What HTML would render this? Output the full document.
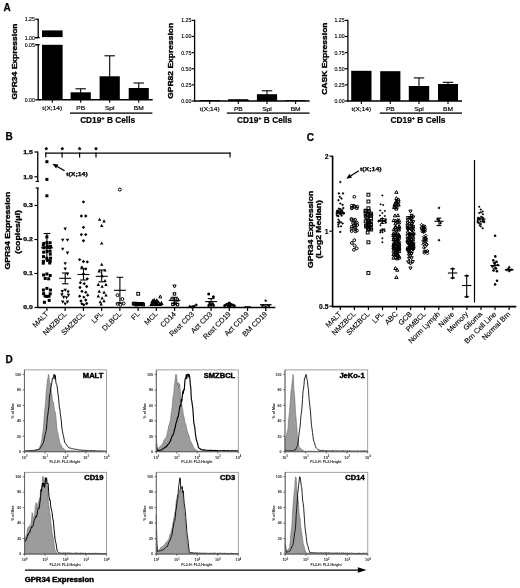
<!DOCTYPE html>
<html><head><meta charset="utf-8"><title>GPR34 expression figure</title>
<style>
html,body{margin:0;padding:0;background:#fff;}
body{width:520px;height:588px;overflow:hidden;}
svg{display:block;filter:blur(0.3px);}
svg text{font-family:"Liberation Sans",Arial,sans-serif;}
</style></head><body>
<svg width="520" height="588" viewBox="0 0 520 588">
<rect width="520" height="588" fill="#fff"/>
<text x="3.60" y="10.80" font-size="10" text-anchor="start" font-weight="bold" stroke="#000" stroke-width="0.25">A</text>
<text x="5.40" y="139.60" font-size="10" text-anchor="start" font-weight="bold" stroke="#000" stroke-width="0.25">B</text>
<text x="306.80" y="140.50" font-size="10" text-anchor="start" font-weight="bold" stroke="#000" stroke-width="0.25">C</text>
<text x="5.40" y="363.10" font-size="10" text-anchor="start" font-weight="bold" stroke="#000" stroke-width="0.25">D</text>
<line x1="38.20" y1="18.70" x2="38.20" y2="37.70" stroke="#000" stroke-width="1.3" />
<line x1="38.20" y1="44.70" x2="38.20" y2="99.80" stroke="#000" stroke-width="1.3" />
<line x1="35.20" y1="37.70" x2="39.70" y2="37.70" stroke="#000" stroke-width="1.2" />
<line x1="35.20" y1="44.70" x2="39.70" y2="44.70" stroke="#000" stroke-width="1.2" />
<line x1="37.70" y1="99.80" x2="152.70" y2="99.80" stroke="#000" stroke-width="1.5" />
<line x1="35.20" y1="19.20" x2="38.20" y2="19.20" stroke="#000" stroke-width="1.2" />
<text x="34.90" y="21.10" font-size="5.2" text-anchor="end" stroke="#000" stroke-width="0.12">1.25</text>
<line x1="35.20" y1="37.70" x2="38.20" y2="37.70" stroke="#000" stroke-width="1.2" />
<text x="34.90" y="39.60" font-size="5.2" text-anchor="end" stroke="#000" stroke-width="0.12">1.00</text>
<line x1="35.20" y1="44.70" x2="38.20" y2="44.70" stroke="#000" stroke-width="1.2" />
<text x="34.90" y="46.60" font-size="5.2" text-anchor="end" stroke="#000" stroke-width="0.12">0.05</text>
<line x1="35.20" y1="99.80" x2="38.20" y2="99.80" stroke="#000" stroke-width="1.2" />
<text x="34.90" y="101.70" font-size="5.2" text-anchor="end" stroke="#000" stroke-width="0.12">0.00</text>
<rect x="42.00" y="30.40" width="20.60" height="6.70" fill="#000" />
<rect x="42.00" y="44.80" width="20.60" height="55.00" fill="#000" />
<line x1="52.30" y1="99.80" x2="52.30" y2="102.80" stroke="#000" stroke-width="1.1" />
<text x="52.30" y="109.90" font-size="5.2" text-anchor="middle" textLength="19.82" lengthAdjust="spacingAndGlyphs" stroke="#000" stroke-width="0.15">t(X;14)</text>
<rect x="70.60" y="92.30" width="20.20" height="7.50" fill="#000" />
<line x1="80.70" y1="88.80" x2="80.70" y2="92.80" stroke="#000" stroke-width="1.1" />
<line x1="75.50" y1="88.80" x2="85.90" y2="88.80" stroke="#000" stroke-width="1.1" />
<line x1="80.70" y1="99.80" x2="80.70" y2="102.80" stroke="#000" stroke-width="1.1" />
<text x="80.70" y="109.90" font-size="5.2" text-anchor="middle" textLength="8.81" lengthAdjust="spacingAndGlyphs" stroke="#000" stroke-width="0.15">PB</text>
<rect x="99.60" y="76.30" width="20.20" height="23.50" fill="#000" />
<line x1="109.70" y1="55.80" x2="109.70" y2="76.80" stroke="#000" stroke-width="1.1" />
<line x1="104.50" y1="55.80" x2="114.90" y2="55.80" stroke="#000" stroke-width="1.1" />
<line x1="109.70" y1="99.80" x2="109.70" y2="102.80" stroke="#000" stroke-width="1.1" />
<text x="109.70" y="109.90" font-size="5.2" text-anchor="middle" textLength="9.54" lengthAdjust="spacingAndGlyphs" stroke="#000" stroke-width="0.15">Spl</text>
<rect x="128.70" y="88.00" width="20.10" height="11.80" fill="#000" />
<line x1="138.75" y1="83.00" x2="138.75" y2="88.50" stroke="#000" stroke-width="1.1" />
<line x1="133.55" y1="83.00" x2="143.95" y2="83.00" stroke="#000" stroke-width="1.1" />
<line x1="138.75" y1="99.80" x2="138.75" y2="102.80" stroke="#000" stroke-width="1.1" />
<text x="138.75" y="109.90" font-size="5.2" text-anchor="middle" textLength="9.91" lengthAdjust="spacingAndGlyphs" stroke="#000" stroke-width="0.15">BM</text>
<text x="16.50" y="61.50" font-size="7.7" text-anchor="middle" font-weight="bold" transform="rotate(-90 16.50 61.50)" textLength="76.13" lengthAdjust="spacingAndGlyphs" stroke="#000" stroke-width="0.35">GPR34 Expression</text>
<rect x="70.00" y="112.45" width="82.40" height="1.30" fill="#000" />
<text x="107.60" y="122.70" font-size="8.3" text-anchor="middle" font-weight="bold" stroke="#000" stroke-width="0.2">CD19<tspan dy="-2.6" font-size="5.6">+</tspan><tspan dy="2.6"> B Cells</tspan></text>
<line x1="194.60" y1="19.70" x2="194.60" y2="101.50" stroke="#000" stroke-width="1.3" />
<line x1="194.10" y1="101.00" x2="309.60" y2="101.00" stroke="#000" stroke-width="1.5" />
<line x1="191.60" y1="20.40" x2="194.60" y2="20.40" stroke="#000" stroke-width="1.2" />
<text x="191.30" y="22.30" font-size="5.2" text-anchor="end" stroke="#000" stroke-width="0.12">1.25</text>
<line x1="191.60" y1="36.52" x2="194.60" y2="36.52" stroke="#000" stroke-width="1.2" />
<text x="191.30" y="38.42" font-size="5.2" text-anchor="end" stroke="#000" stroke-width="0.12">1.00</text>
<line x1="191.60" y1="52.64" x2="194.60" y2="52.64" stroke="#000" stroke-width="1.2" />
<text x="191.30" y="54.54" font-size="5.2" text-anchor="end" stroke="#000" stroke-width="0.12">0.75</text>
<line x1="191.60" y1="68.76" x2="194.60" y2="68.76" stroke="#000" stroke-width="1.2" />
<text x="191.30" y="70.66" font-size="5.2" text-anchor="end" stroke="#000" stroke-width="0.12">0.50</text>
<line x1="191.60" y1="84.88" x2="194.60" y2="84.88" stroke="#000" stroke-width="1.2" />
<text x="191.30" y="86.78" font-size="5.2" text-anchor="end" stroke="#000" stroke-width="0.12">0.25</text>
<line x1="191.60" y1="101.00" x2="194.60" y2="101.00" stroke="#000" stroke-width="1.2" />
<text x="191.30" y="102.90" font-size="5.2" text-anchor="end" stroke="#000" stroke-width="0.12">0.00</text>
<rect x="199.60" y="100.00" width="20.20" height="1.00" fill="#000" />
<line x1="209.70" y1="101.00" x2="209.70" y2="104.00" stroke="#000" stroke-width="1.1" />
<text x="209.70" y="111.10" font-size="5.2" text-anchor="middle" textLength="19.82" lengthAdjust="spacingAndGlyphs" stroke="#000" stroke-width="0.15">t(X;14)</text>
<rect x="228.20" y="99.20" width="20.20" height="1.80" fill="#000" />
<line x1="238.30" y1="101.00" x2="238.30" y2="104.00" stroke="#000" stroke-width="1.1" />
<text x="238.30" y="111.10" font-size="5.2" text-anchor="middle" textLength="8.81" lengthAdjust="spacingAndGlyphs" stroke="#000" stroke-width="0.15">PB</text>
<rect x="256.90" y="94.20" width="20.20" height="6.80" fill="#000" />
<line x1="267.00" y1="90.80" x2="267.00" y2="94.70" stroke="#000" stroke-width="1.1" />
<line x1="261.80" y1="90.80" x2="272.20" y2="90.80" stroke="#000" stroke-width="1.1" />
<line x1="267.00" y1="101.00" x2="267.00" y2="104.00" stroke="#000" stroke-width="1.1" />
<text x="267.00" y="111.10" font-size="5.2" text-anchor="middle" textLength="9.54" lengthAdjust="spacingAndGlyphs" stroke="#000" stroke-width="0.15">Spl</text>
<rect x="285.50" y="100.20" width="20.20" height="0.80" fill="#000" />
<line x1="295.60" y1="101.00" x2="295.60" y2="104.00" stroke="#000" stroke-width="1.1" />
<text x="295.60" y="111.10" font-size="5.2" text-anchor="middle" textLength="9.91" lengthAdjust="spacingAndGlyphs" stroke="#000" stroke-width="0.15">BM</text>
<text x="173.40" y="60.80" font-size="7.7" text-anchor="middle" font-weight="bold" transform="rotate(-90 173.40 60.80)" textLength="76.13" lengthAdjust="spacingAndGlyphs" stroke="#000" stroke-width="0.35">GPR82 Expression</text>
<rect x="226.80" y="112.45" width="82.70" height="1.30" fill="#000" />
<text x="264.50" y="122.70" font-size="8.3" text-anchor="middle" font-weight="bold" stroke="#000" stroke-width="0.2">CD19<tspan dy="-2.6" font-size="5.6">+</tspan><tspan dy="2.6"> B Cells</tspan></text>
<line x1="347.90" y1="19.70" x2="347.90" y2="101.50" stroke="#000" stroke-width="1.3" />
<line x1="347.40" y1="101.00" x2="462.00" y2="101.00" stroke="#000" stroke-width="1.5" />
<line x1="344.90" y1="20.40" x2="347.90" y2="20.40" stroke="#000" stroke-width="1.2" />
<text x="344.60" y="22.30" font-size="5.2" text-anchor="end" stroke="#000" stroke-width="0.12">1.25</text>
<line x1="344.90" y1="36.52" x2="347.90" y2="36.52" stroke="#000" stroke-width="1.2" />
<text x="344.60" y="38.42" font-size="5.2" text-anchor="end" stroke="#000" stroke-width="0.12">1.00</text>
<line x1="344.90" y1="52.64" x2="347.90" y2="52.64" stroke="#000" stroke-width="1.2" />
<text x="344.60" y="54.54" font-size="5.2" text-anchor="end" stroke="#000" stroke-width="0.12">0.75</text>
<line x1="344.90" y1="68.76" x2="347.90" y2="68.76" stroke="#000" stroke-width="1.2" />
<text x="344.60" y="70.66" font-size="5.2" text-anchor="end" stroke="#000" stroke-width="0.12">0.50</text>
<line x1="344.90" y1="84.88" x2="347.90" y2="84.88" stroke="#000" stroke-width="1.2" />
<text x="344.60" y="86.78" font-size="5.2" text-anchor="end" stroke="#000" stroke-width="0.12">0.25</text>
<line x1="344.90" y1="101.00" x2="347.90" y2="101.00" stroke="#000" stroke-width="1.2" />
<text x="344.60" y="102.90" font-size="5.2" text-anchor="end" stroke="#000" stroke-width="0.12">0.00</text>
<rect x="351.20" y="70.80" width="20.30" height="30.20" fill="#000" />
<line x1="361.35" y1="101.00" x2="361.35" y2="104.00" stroke="#000" stroke-width="1.1" />
<text x="361.35" y="111.10" font-size="5.2" text-anchor="middle" textLength="19.82" lengthAdjust="spacingAndGlyphs" stroke="#000" stroke-width="0.15">t(X;14)</text>
<rect x="380.20" y="71.20" width="20.20" height="29.80" fill="#000" />
<line x1="390.30" y1="101.00" x2="390.30" y2="104.00" stroke="#000" stroke-width="1.1" />
<text x="390.30" y="111.10" font-size="5.2" text-anchor="middle" textLength="8.81" lengthAdjust="spacingAndGlyphs" stroke="#000" stroke-width="0.15">PB</text>
<rect x="408.80" y="86.00" width="20.40" height="15.00" fill="#000" />
<line x1="419.00" y1="77.90" x2="419.00" y2="86.50" stroke="#000" stroke-width="1.1" />
<line x1="413.80" y1="77.90" x2="424.20" y2="77.90" stroke="#000" stroke-width="1.1" />
<line x1="419.00" y1="101.00" x2="419.00" y2="104.00" stroke="#000" stroke-width="1.1" />
<text x="419.00" y="111.10" font-size="5.2" text-anchor="middle" textLength="9.54" lengthAdjust="spacingAndGlyphs" stroke="#000" stroke-width="0.15">Spl</text>
<rect x="438.00" y="84.00" width="20.00" height="17.00" fill="#000" />
<line x1="448.00" y1="82.30" x2="448.00" y2="84.50" stroke="#000" stroke-width="1.1" />
<line x1="442.80" y1="82.30" x2="453.20" y2="82.30" stroke="#000" stroke-width="1.1" />
<line x1="448.00" y1="101.00" x2="448.00" y2="104.00" stroke="#000" stroke-width="1.1" />
<text x="448.00" y="111.10" font-size="5.2" text-anchor="middle" textLength="9.91" lengthAdjust="spacingAndGlyphs" stroke="#000" stroke-width="0.15">BM</text>
<text x="327.00" y="58.60" font-size="7.7" text-anchor="middle" font-weight="bold" transform="rotate(-90 327.00 58.60)" textLength="72.34" lengthAdjust="spacingAndGlyphs" stroke="#000" stroke-width="0.35">CASK Expression</text>
<rect x="379.80" y="112.45" width="82.20" height="1.30" fill="#000" />
<text x="418.00" y="122.70" font-size="8.3" text-anchor="middle" font-weight="bold" stroke="#000" stroke-width="0.2">CD19<tspan dy="-2.6" font-size="5.6">+</tspan><tspan dy="2.6"> B Cells</tspan></text>
<line x1="37.75" y1="151.50" x2="37.75" y2="181.50" stroke="#000" stroke-width="1.3" />
<line x1="37.75" y1="188.00" x2="37.75" y2="308.00" stroke="#000" stroke-width="1.3" />
<line x1="35.55" y1="181.50" x2="38.95" y2="181.50" stroke="#000" stroke-width="1.1" />
<line x1="35.55" y1="188.00" x2="38.95" y2="188.00" stroke="#000" stroke-width="1.1" />
<line x1="34.45" y1="307.50" x2="37.75" y2="307.50" stroke="#000" stroke-width="1.2" />
<text x="32.75" y="309.40" font-size="5.3" text-anchor="end" font-weight="bold" textLength="9.58" lengthAdjust="spacingAndGlyphs" stroke="#000" stroke-width="0.25">0.0</text>
<line x1="34.45" y1="273.50" x2="37.75" y2="273.50" stroke="#000" stroke-width="1.2" />
<text x="32.75" y="275.40" font-size="5.3" text-anchor="end" font-weight="bold" textLength="9.58" lengthAdjust="spacingAndGlyphs" stroke="#000" stroke-width="0.25">0.1</text>
<line x1="34.45" y1="239.50" x2="37.75" y2="239.50" stroke="#000" stroke-width="1.2" />
<text x="32.75" y="241.40" font-size="5.3" text-anchor="end" font-weight="bold" textLength="9.58" lengthAdjust="spacingAndGlyphs" stroke="#000" stroke-width="0.25">0.2</text>
<line x1="34.45" y1="205.50" x2="37.75" y2="205.50" stroke="#000" stroke-width="1.2" />
<text x="32.75" y="207.40" font-size="5.3" text-anchor="end" font-weight="bold" textLength="9.58" lengthAdjust="spacingAndGlyphs" stroke="#000" stroke-width="0.25">0.3</text>
<line x1="34.45" y1="152.00" x2="37.75" y2="152.00" stroke="#000" stroke-width="1.2" />
<text x="32.75" y="153.90" font-size="5.3" text-anchor="end" font-weight="bold" textLength="9.58" lengthAdjust="spacingAndGlyphs" stroke="#000" stroke-width="0.25">1.5</text>
<line x1="34.45" y1="176.80" x2="37.75" y2="176.80" stroke="#000" stroke-width="1.2" />
<text x="32.75" y="178.70" font-size="5.3" text-anchor="end" font-weight="bold" textLength="9.58" lengthAdjust="spacingAndGlyphs" stroke="#000" stroke-width="0.25">1.0</text>
<line x1="37.25" y1="307.50" x2="275.30" y2="307.50" stroke="#000" stroke-width="1.6" />
<text x="10.40" y="230.70" font-size="7.8" text-anchor="middle" font-weight="bold" transform="rotate(-90 10.40 230.70)" textLength="77.82" lengthAdjust="spacingAndGlyphs" stroke="#000" stroke-width="0.35">GPR34 Expression</text>
<text x="19.70" y="231.90" font-size="7.8" text-anchor="middle" font-weight="bold" transform="rotate(-90 19.70 231.90)" textLength="43.49" lengthAdjust="spacingAndGlyphs" stroke="#000" stroke-width="0.35">(copies/μl)</text>
<line x1="46.90" y1="307.50" x2="46.90" y2="310.90" stroke="#000" stroke-width="1.2" />
<text x="48.80" y="314.50" font-size="7.3" text-anchor="end" transform="rotate(-45 48.80 314.50)" stroke="#000" stroke-width="0.12">MALT</text>
<line x1="65.14" y1="307.50" x2="65.14" y2="310.90" stroke="#000" stroke-width="1.2" />
<text x="67.04" y="314.50" font-size="7.3" text-anchor="end" transform="rotate(-45 67.04 314.50)" stroke="#000" stroke-width="0.12">NMZBCL</text>
<line x1="83.38" y1="307.50" x2="83.38" y2="310.90" stroke="#000" stroke-width="1.2" />
<text x="85.28" y="314.50" font-size="7.3" text-anchor="end" transform="rotate(-45 85.28 314.50)" stroke="#000" stroke-width="0.12">SMZBCL</text>
<line x1="101.62" y1="307.50" x2="101.62" y2="310.90" stroke="#000" stroke-width="1.2" />
<text x="103.52" y="314.50" font-size="7.3" text-anchor="end" transform="rotate(-45 103.52 314.50)" stroke="#000" stroke-width="0.12">LPL</text>
<line x1="119.86" y1="307.50" x2="119.86" y2="310.90" stroke="#000" stroke-width="1.2" />
<text x="121.76" y="314.50" font-size="7.3" text-anchor="end" transform="rotate(-45 121.76 314.50)" stroke="#000" stroke-width="0.12">DLBCL</text>
<line x1="138.10" y1="307.50" x2="138.10" y2="310.90" stroke="#000" stroke-width="1.2" />
<text x="140.00" y="314.50" font-size="7.3" text-anchor="end" transform="rotate(-45 140.00 314.50)" stroke="#000" stroke-width="0.12">FL</text>
<line x1="156.34" y1="307.50" x2="156.34" y2="310.90" stroke="#000" stroke-width="1.2" />
<text x="158.24" y="314.50" font-size="7.3" text-anchor="end" transform="rotate(-45 158.24 314.50)" stroke="#000" stroke-width="0.12">MCL</text>
<line x1="174.58" y1="307.50" x2="174.58" y2="310.90" stroke="#000" stroke-width="1.2" />
<text x="176.48" y="314.50" font-size="7.3" text-anchor="end" transform="rotate(-45 176.48 314.50)" stroke="#000" stroke-width="0.12">CD14</text>
<line x1="192.82" y1="307.50" x2="192.82" y2="310.90" stroke="#000" stroke-width="1.2" />
<text x="194.72" y="314.50" font-size="7.3" text-anchor="end" transform="rotate(-45 194.72 314.50)" stroke="#000" stroke-width="0.12">Rest CD3</text>
<line x1="211.06" y1="307.50" x2="211.06" y2="310.90" stroke="#000" stroke-width="1.2" />
<text x="212.96" y="314.50" font-size="7.3" text-anchor="end" transform="rotate(-45 212.96 314.50)" stroke="#000" stroke-width="0.12">Act CD3</text>
<line x1="229.30" y1="307.50" x2="229.30" y2="310.90" stroke="#000" stroke-width="1.2" />
<text x="231.20" y="314.50" font-size="7.3" text-anchor="end" transform="rotate(-45 231.20 314.50)" stroke="#000" stroke-width="0.12">Rest CD19</text>
<line x1="247.54" y1="307.50" x2="247.54" y2="310.90" stroke="#000" stroke-width="1.2" />
<text x="249.44" y="314.50" font-size="7.3" text-anchor="end" transform="rotate(-45 249.44 314.50)" stroke="#000" stroke-width="0.12">Act CD19</text>
<line x1="265.78" y1="307.50" x2="265.78" y2="310.90" stroke="#000" stroke-width="1.2" />
<text x="267.68" y="314.50" font-size="7.3" text-anchor="end" transform="rotate(-45 267.68 314.50)" stroke="#000" stroke-width="0.12">BM CD19</text>
<line x1="45.30" y1="153.10" x2="230.50" y2="153.10" stroke="#000" stroke-width="1.2" />
<line x1="45.80" y1="152.60" x2="45.80" y2="157.50" stroke="#000" stroke-width="1.2" />
<line x1="62.10" y1="152.60" x2="62.10" y2="157.50" stroke="#000" stroke-width="1.2" />
<line x1="79.60" y1="152.60" x2="79.60" y2="157.50" stroke="#000" stroke-width="1.2" />
<line x1="96.00" y1="152.60" x2="96.00" y2="157.50" stroke="#000" stroke-width="1.2" />
<line x1="230.00" y1="152.60" x2="230.00" y2="157.50" stroke="#000" stroke-width="1.2" />
<polygon points="46.30,146.49 46.90,147.87 48.40,148.02 47.27,149.02 47.60,150.49 46.30,149.72 45.00,150.49 45.33,149.02 44.20,148.02 45.70,147.87" fill="#000" stroke="#000" stroke-width="0"/>
<polygon points="62.30,146.49 62.90,147.87 64.40,148.02 63.27,149.02 63.60,150.49 62.30,149.72 61.00,150.49 61.33,149.02 60.20,148.02 61.70,147.87" fill="#000" stroke="#000" stroke-width="0"/>
<polygon points="79.60,146.49 80.20,147.87 81.70,148.02 80.57,149.02 80.90,150.49 79.60,149.72 78.30,150.49 78.63,149.02 77.50,148.02 79.00,147.87" fill="#000" stroke="#000" stroke-width="0"/>
<polygon points="96.00,146.49 96.60,147.87 98.10,148.02 96.97,149.02 97.30,150.49 96.00,149.72 94.70,150.49 95.03,149.02 93.90,148.02 95.40,147.87" fill="#000" stroke="#000" stroke-width="0"/>
<line x1="64.60" y1="170.80" x2="55.00" y2="165.20" stroke="#000" stroke-width="1.3" />
<polygon points="52.4,163.7 58.4,164.4 56,168.6" fill="#000"/>
<text x="66.20" y="176.10" font-size="5.3" text-anchor="start" font-weight="bold" textLength="21.60" lengthAdjust="spacingAndGlyphs" stroke="#000" stroke-width="0.25">t(X;14)</text>
<rect x="45.40" y="160.20" width="3.00" height="3.00" fill="#000" stroke="#000" stroke-width="0"/>
<rect x="45.40" y="177.90" width="3.00" height="3.00" fill="#000" stroke="#000" stroke-width="0"/>
<rect x="45.40" y="194.30" width="3.00" height="3.00" fill="#000" stroke="#000" stroke-width="0"/>
<rect x="45.40" y="235.40" width="3.00" height="3.00" fill="#000" stroke="#000" stroke-width="0"/>
<rect x="42.26" y="241.85" width="3.00" height="3.00" fill="#000" stroke="#000" stroke-width="0"/>
<rect x="45.41" y="241.17" width="3.00" height="3.00" fill="#000" stroke="#000" stroke-width="0"/>
<rect x="48.61" y="241.26" width="3.00" height="3.00" fill="#000" stroke="#000" stroke-width="0"/>
<rect x="41.79" y="243.61" width="3.00" height="3.00" fill="#000" stroke="#000" stroke-width="0"/>
<rect x="45.71" y="244.39" width="3.00" height="3.00" fill="#000" stroke="#000" stroke-width="0"/>
<rect x="49.08" y="244.93" width="3.00" height="3.00" fill="#000" stroke="#000" stroke-width="0"/>
<rect x="42.32" y="246.31" width="3.00" height="3.00" fill="#000" stroke="#000" stroke-width="0"/>
<rect x="45.43" y="246.12" width="3.00" height="3.00" fill="#000" stroke="#000" stroke-width="0"/>
<rect x="48.34" y="246.06" width="3.00" height="3.00" fill="#000" stroke="#000" stroke-width="0"/>
<rect x="42.14" y="250.68" width="3.00" height="3.00" fill="#000" stroke="#000" stroke-width="0"/>
<rect x="45.54" y="250.00" width="3.00" height="3.00" fill="#000" stroke="#000" stroke-width="0"/>
<rect x="48.56" y="249.56" width="3.00" height="3.00" fill="#000" stroke="#000" stroke-width="0"/>
<rect x="48.81" y="252.63" width="3.00" height="3.00" fill="#000" stroke="#000" stroke-width="0"/>
<rect x="41.99" y="255.14" width="3.00" height="3.00" fill="#000" stroke="#000" stroke-width="0"/>
<rect x="45.30" y="256.69" width="3.00" height="3.00" fill="#000" stroke="#000" stroke-width="0"/>
<rect x="49.06" y="256.69" width="3.00" height="3.00" fill="#000" stroke="#000" stroke-width="0"/>
<rect x="41.91" y="259.82" width="3.00" height="3.00" fill="#000" stroke="#000" stroke-width="0"/>
<rect x="45.88" y="258.79" width="3.00" height="3.00" fill="#000" stroke="#000" stroke-width="0"/>
<rect x="48.73" y="259.56" width="3.00" height="3.00" fill="#000" stroke="#000" stroke-width="0"/>
<rect x="41.79" y="261.67" width="3.00" height="3.00" fill="#000" stroke="#000" stroke-width="0"/>
<rect x="48.22" y="261.49" width="3.00" height="3.00" fill="#000" stroke="#000" stroke-width="0"/>
<rect x="42.10" y="273.50" width="3.00" height="3.00" fill="#000" stroke="#000" stroke-width="0"/>
<rect x="45.40" y="272.50" width="3.00" height="3.00" fill="#000" stroke="#000" stroke-width="0"/>
<rect x="48.70" y="274.00" width="3.00" height="3.00" fill="#000" stroke="#000" stroke-width="0"/>
<rect x="43.70" y="277.00" width="3.00" height="3.00" fill="#000" stroke="#000" stroke-width="0"/>
<rect x="47.20" y="277.30" width="3.00" height="3.00" fill="#000" stroke="#000" stroke-width="0"/>
<rect x="41.90" y="288.50" width="3.00" height="3.00" fill="#000" stroke="#000" stroke-width="0"/>
<rect x="45.40" y="286.90" width="3.00" height="3.00" fill="#000" stroke="#000" stroke-width="0"/>
<rect x="48.90" y="288.50" width="3.00" height="3.00" fill="#000" stroke="#000" stroke-width="0"/>
<rect x="42.10" y="292.10" width="3.00" height="3.00" fill="#000" stroke="#000" stroke-width="0"/>
<rect x="48.70" y="292.30" width="3.00" height="3.00" fill="#000" stroke="#000" stroke-width="0"/>
<rect x="45.40" y="295.00" width="3.00" height="3.00" fill="#000" stroke="#000" stroke-width="0"/>
<rect x="43.50" y="294.50" width="3.00" height="3.00" fill="#000" stroke="#000" stroke-width="0"/>
<rect x="47.50" y="294.70" width="3.00" height="3.00" fill="#000" stroke="#000" stroke-width="0"/>
<rect x="42.90" y="300.80" width="3.00" height="3.00" fill="#000" stroke="#000" stroke-width="0"/>
<rect x="47.70" y="298.90" width="3.00" height="3.00" fill="#000" stroke="#000" stroke-width="0"/>
<line x1="46.90" y1="233.50" x2="46.90" y2="262.00" stroke="#000" stroke-width="1.1" />
<line x1="43.60" y1="233.50" x2="50.20" y2="233.50" stroke="#000" stroke-width="1.1" />
<line x1="41.00" y1="247.80" x2="53.00" y2="247.80" stroke="#000" stroke-width="1.1" />
<polygon points="65.19,230.63 66.90,227.53 63.49,227.53" fill="#000" stroke="#000" stroke-width="0"/>
<polygon points="62.69,241.78 64.40,238.68 60.99,238.68" fill="#000" stroke="#000" stroke-width="0"/>
<polygon points="67.50,241.78 69.20,238.68 65.80,238.68" fill="#000" stroke="#000" stroke-width="0"/>
<polygon points="62.69,250.82 64.40,247.72 60.99,247.72" fill="#000" stroke="#000" stroke-width="0"/>
<polygon points="67.50,254.67 69.20,251.57 65.80,251.57" fill="#000" stroke="#000" stroke-width="0"/>
<polygon points="65.19,265.24 66.90,262.14 63.49,262.14" fill="#000" stroke="#000" stroke-width="0"/>
<polygon points="65.19,270.63 66.90,267.53 63.49,267.53" fill="#000" stroke="#000" stroke-width="0"/>
<polygon points="67.50,275.82 69.20,272.72 65.80,272.72" fill="#000" stroke="#000" stroke-width="0"/>
<polygon points="62.31,293.13 64.01,290.03 60.60,290.03" fill="#000" stroke="#000" stroke-width="0"/>
<polygon points="65.19,291.78 66.90,288.68 63.49,288.68" fill="#000" stroke="#000" stroke-width="0"/>
<polygon points="68.08,293.71 69.78,290.61 66.37,290.61" fill="#000" stroke="#000" stroke-width="0"/>
<polygon points="61.92,296.40 63.63,293.30 60.22,293.30" fill="#000" stroke="#000" stroke-width="0"/>
<polygon points="68.46,296.97 70.17,293.87 66.76,293.87" fill="#000" stroke="#000" stroke-width="0"/>
<polygon points="63.65,298.90 65.36,295.80 61.95,295.80" fill="#000" stroke="#000" stroke-width="0"/>
<polygon points="66.54,299.28 68.24,296.18 64.83,296.18" fill="#000" stroke="#000" stroke-width="0"/>
<polygon points="62.69,303.71 64.40,300.61 60.99,300.61" fill="#000" stroke="#000" stroke-width="0"/>
<polygon points="65.19,305.63 66.90,302.53 63.49,302.53" fill="#000" stroke="#000" stroke-width="0"/>
<polygon points="67.50,303.71 69.20,300.61 65.80,300.61" fill="#000" stroke="#000" stroke-width="0"/>
<line x1="59.20" y1="278.30" x2="71.20" y2="278.30" stroke="#000" stroke-width="1.1" />
<line x1="65.20" y1="273.00" x2="65.20" y2="283.80" stroke="#000" stroke-width="1.1" />
<line x1="61.90" y1="273.00" x2="68.50" y2="273.00" stroke="#000" stroke-width="1.1" />
<line x1="61.90" y1="283.80" x2="68.50" y2="283.80" stroke="#000" stroke-width="1.1" />
<polygon points="83.46,200.24 85.14,201.92 83.46,203.60 81.78,201.92" fill="#000" stroke="#000" stroke-width="0"/>
<polygon points="81.35,214.28 83.03,215.96 81.35,217.64 79.67,215.96" fill="#000" stroke="#000" stroke-width="0"/>
<polygon points="85.77,214.28 87.45,215.96 85.77,217.64 84.09,215.96" fill="#000" stroke="#000" stroke-width="0"/>
<polygon points="83.46,225.63 85.14,227.31 83.46,228.99 81.78,227.31" fill="#000" stroke="#000" stroke-width="0"/>
<polygon points="81.35,232.94 83.03,234.62 81.35,236.30 79.67,234.62" fill="#000" stroke="#000" stroke-width="0"/>
<polygon points="85.77,232.94 87.45,234.62 85.77,236.30 84.09,234.62" fill="#000" stroke="#000" stroke-width="0"/>
<polygon points="83.46,239.09 85.14,240.77 83.46,242.45 81.78,240.77" fill="#000" stroke="#000" stroke-width="0"/>
<polygon points="79.62,257.94 81.30,259.62 79.62,261.30 77.94,259.62" fill="#000" stroke="#000" stroke-width="0"/>
<polygon points="83.46,259.86 85.14,261.54 83.46,263.22 81.78,261.54" fill="#000" stroke="#000" stroke-width="0"/>
<polygon points="87.31,260.24 88.99,261.92 87.31,263.60 85.63,261.92" fill="#000" stroke="#000" stroke-width="0"/>
<polygon points="81.92,265.63 83.60,267.31 81.92,268.99 80.24,267.31" fill="#000" stroke="#000" stroke-width="0"/>
<polygon points="85.77,267.17 87.45,268.85 85.77,270.53 84.09,268.85" fill="#000" stroke="#000" stroke-width="0"/>
<polygon points="83.46,272.36 85.14,274.04 83.46,275.72 81.78,274.04" fill="#000" stroke="#000" stroke-width="0"/>
<polygon points="87.31,277.17 88.99,278.85 87.31,280.53 85.63,278.85" fill="#000" stroke="#000" stroke-width="0"/>
<polygon points="80.00,285.82 81.68,287.50 80.00,289.18 78.32,287.50" fill="#000" stroke="#000" stroke-width="0"/>
<polygon points="86.73,284.86 88.41,286.54 86.73,288.22 85.05,286.54" fill="#000" stroke="#000" stroke-width="0"/>
<polygon points="81.92,289.67 83.60,291.35 81.92,293.03 80.24,291.35" fill="#000" stroke="#000" stroke-width="0"/>
<polygon points="85.77,290.63 87.45,292.31 85.77,293.99 84.09,292.31" fill="#000" stroke="#000" stroke-width="0"/>
<polygon points="79.62,294.47 81.30,296.15 79.62,297.83 77.94,296.15" fill="#000" stroke="#000" stroke-width="0"/>
<polygon points="83.85,295.44 85.53,297.12 83.85,298.80 82.17,297.12" fill="#000" stroke="#000" stroke-width="0"/>
<polygon points="87.69,293.51 89.37,295.19 87.69,296.87 86.01,295.19" fill="#000" stroke="#000" stroke-width="0"/>
<polygon points="80.96,299.28 82.64,300.96 80.96,302.64 79.28,300.96" fill="#000" stroke="#000" stroke-width="0"/>
<polygon points="85.77,298.32 87.45,300.00 85.77,301.68 84.09,300.00" fill="#000" stroke="#000" stroke-width="0"/>
<polygon points="81.92,302.17 83.60,303.85 81.92,305.53 80.24,303.85" fill="#000" stroke="#000" stroke-width="0"/>
<polygon points="86.73,301.78 88.41,303.46 86.73,305.14 85.05,303.46" fill="#000" stroke="#000" stroke-width="0"/>
<polygon points="83.85,303.13 85.53,304.81 83.85,306.49 82.17,304.81" fill="#000" stroke="#000" stroke-width="0"/>
<polygon points="80.38,281.01 82.06,282.69 80.38,284.37 78.70,282.69" fill="#000" stroke="#000" stroke-width="0"/>
<polygon points="84.23,281.97 85.91,283.65 84.23,285.33 82.55,283.65" fill="#000" stroke="#000" stroke-width="0"/>
<line x1="77.50" y1="274.50" x2="89.50" y2="274.50" stroke="#000" stroke-width="1.1" />
<line x1="83.50" y1="268.80" x2="83.50" y2="280.00" stroke="#000" stroke-width="1.1" />
<line x1="80.20" y1="268.80" x2="86.80" y2="268.80" stroke="#000" stroke-width="1.1" />
<line x1="80.20" y1="280.00" x2="86.80" y2="280.00" stroke="#000" stroke-width="1.1" />
<polygon points="99.62,217.64 101.32,220.74 97.91,220.74" fill="#000" stroke="#000" stroke-width="0"/>
<polygon points="104.04,219.37 105.74,222.47 102.33,222.47" fill="#000" stroke="#000" stroke-width="0"/>
<polygon points="101.73,223.79 103.44,226.89 100.03,226.89" fill="#000" stroke="#000" stroke-width="0"/>
<polygon points="101.73,241.49 103.44,244.59 100.03,244.59" fill="#000" stroke="#000" stroke-width="0"/>
<polygon points="101.73,262.64 103.44,265.74 100.03,265.74" fill="#000" stroke="#000" stroke-width="0"/>
<polygon points="99.23,269.37 100.94,272.47 97.53,272.47" fill="#000" stroke="#000" stroke-width="0"/>
<polygon points="105.00,268.41 106.70,271.51 103.30,271.51" fill="#000" stroke="#000" stroke-width="0"/>
<polygon points="102.12,274.18 103.82,277.28 100.41,277.28" fill="#000" stroke="#000" stroke-width="0"/>
<polygon points="105.00,278.99 106.70,282.09 103.30,282.09" fill="#000" stroke="#000" stroke-width="0"/>
<polygon points="98.27,282.83 99.97,285.93 96.56,285.93" fill="#000" stroke="#000" stroke-width="0"/>
<polygon points="102.12,284.76 103.82,287.86 100.41,287.86" fill="#000" stroke="#000" stroke-width="0"/>
<polygon points="105.96,282.83 107.67,285.93 104.26,285.93" fill="#000" stroke="#000" stroke-width="0"/>
<polygon points="99.23,289.56 100.94,292.66 97.53,292.66" fill="#000" stroke="#000" stroke-width="0"/>
<polygon points="104.04,290.53 105.74,293.63 102.33,293.63" fill="#000" stroke="#000" stroke-width="0"/>
<polygon points="98.27,294.37 99.97,297.47 96.56,297.47" fill="#000" stroke="#000" stroke-width="0"/>
<polygon points="102.12,296.29 103.82,299.39 100.41,299.39" fill="#000" stroke="#000" stroke-width="0"/>
<polygon points="105.96,293.41 107.67,296.51 104.26,296.51" fill="#000" stroke="#000" stroke-width="0"/>
<polygon points="100.19,300.14 101.90,303.24 98.49,303.24" fill="#000" stroke="#000" stroke-width="0"/>
<polygon points="104.04,299.18 105.74,302.28 102.33,302.28" fill="#000" stroke="#000" stroke-width="0"/>
<polygon points="101.15,302.45 102.86,305.55 99.45,305.55" fill="#000" stroke="#000" stroke-width="0"/>
<line x1="95.70" y1="276.30" x2="107.70" y2="276.30" stroke="#000" stroke-width="1.1" />
<line x1="101.70" y1="270.00" x2="101.70" y2="281.80" stroke="#000" stroke-width="1.1" />
<line x1="98.40" y1="270.00" x2="105.00" y2="270.00" stroke="#000" stroke-width="1.1" />
<line x1="98.40" y1="281.80" x2="105.00" y2="281.80" stroke="#000" stroke-width="1.1" />
<circle cx="119.80" cy="189.60" r="1.50" fill="none" stroke="#000" stroke-width="1.0"/>
<line x1="113.90" y1="290.30" x2="125.90" y2="290.30" stroke="#000" stroke-width="1.1" />
<line x1="119.90" y1="277.30" x2="119.90" y2="303.00" stroke="#000" stroke-width="1.1" />
<line x1="116.60" y1="277.30" x2="123.20" y2="277.30" stroke="#000" stroke-width="1.1" />
<line x1="116.60" y1="303.00" x2="123.20" y2="303.00" stroke="#000" stroke-width="1.1" />
<circle cx="117.50" cy="295.19" r="1.45" fill="none" stroke="#000" stroke-width="1.0"/>
<circle cx="122.31" cy="299.04" r="1.45" fill="none" stroke="#000" stroke-width="1.0"/>
<circle cx="117.50" cy="303.85" r="1.45" fill="none" stroke="#000" stroke-width="1.0"/>
<circle cx="120.38" cy="304.81" r="1.45" fill="none" stroke="#000" stroke-width="1.0"/>
<circle cx="123.65" cy="303.46" r="1.45" fill="none" stroke="#000" stroke-width="1.0"/>
<rect x="136.80" y="292.40" width="2.80" height="2.80" fill="none" stroke="#000" stroke-width="1.0"/>
<rect x="132.35" y="302.39" width="2.50" height="2.50" fill="none" stroke="#000" stroke-width="1.1"/>
<rect x="133.75" y="302.33" width="2.50" height="2.50" fill="none" stroke="#000" stroke-width="1.1"/>
<rect x="135.15" y="303.37" width="2.50" height="2.50" fill="none" stroke="#000" stroke-width="1.1"/>
<rect x="136.55" y="302.50" width="2.50" height="2.50" fill="none" stroke="#000" stroke-width="1.1"/>
<rect x="137.95" y="303.03" width="2.50" height="2.50" fill="none" stroke="#000" stroke-width="1.1"/>
<rect x="139.35" y="302.88" width="2.50" height="2.50" fill="none" stroke="#000" stroke-width="1.1"/>
<rect x="140.75" y="302.52" width="2.50" height="2.50" fill="none" stroke="#000" stroke-width="1.1"/>
<rect x="141.95" y="303.27" width="2.50" height="2.50" fill="none" stroke="#000" stroke-width="1.1"/>
<line x1="132.60" y1="304.60" x2="143.80" y2="304.60" stroke="#000" stroke-width="1.8" />
<polygon points="160.30,295.09 161.84,297.89 158.76,297.89" fill="none" stroke="#000" stroke-width="1.0"/>
<polygon points="151.60,302.96 152.97,305.46 150.22,305.46" fill="none" stroke="#000" stroke-width="1.1"/>
<polygon points="153.00,301.36 154.38,303.86 151.62,303.86" fill="none" stroke="#000" stroke-width="1.1"/>
<polygon points="154.40,303.06 155.78,305.56 153.03,305.56" fill="none" stroke="#000" stroke-width="1.1"/>
<polygon points="155.80,301.06 157.17,303.56 154.42,303.56" fill="none" stroke="#000" stroke-width="1.1"/>
<polygon points="157.20,303.06 158.57,305.56 155.82,305.56" fill="none" stroke="#000" stroke-width="1.1"/>
<polygon points="158.60,301.56 159.97,304.06 157.22,304.06" fill="none" stroke="#000" stroke-width="1.1"/>
<polygon points="160.00,303.06 161.38,305.56 158.62,305.56" fill="none" stroke="#000" stroke-width="1.1"/>
<polygon points="154.20,298.96 155.57,301.46 152.82,301.46" fill="none" stroke="#000" stroke-width="1.1"/>
<polygon points="156.80,299.36 158.17,301.86 155.42,301.86" fill="none" stroke="#000" stroke-width="1.1"/>
<polygon points="161.40,301.96 162.78,304.46 160.03,304.46" fill="none" stroke="#000" stroke-width="1.1"/>
<polygon points="152.60,299.96 153.97,302.46 151.22,302.46" fill="none" stroke="#000" stroke-width="1.1"/>
<line x1="150.60" y1="304.90" x2="161.80" y2="304.90" stroke="#000" stroke-width="1.8" />
<polygon points="174.50,288.03 176.15,285.03 172.85,285.03" fill="none" stroke="#000" stroke-width="1.0"/>
<rect x="173.30" y="292.70" width="2.40" height="2.40" fill="none" stroke="#000" stroke-width="1.0"/>
<rect x="170.80" y="298.20" width="2.40" height="2.40" fill="none" stroke="#000" stroke-width="1.0"/>
<rect x="176.10" y="298.70" width="2.40" height="2.40" fill="none" stroke="#000" stroke-width="1.0"/>
<rect x="173.80" y="302.00" width="2.40" height="2.40" fill="none" stroke="#000" stroke-width="1.0"/>
<rect x="171.80" y="303.20" width="2.40" height="2.40" fill="none" stroke="#000" stroke-width="1.0"/>
<rect x="176.30" y="303.40" width="2.40" height="2.40" fill="none" stroke="#000" stroke-width="1.0"/>
<line x1="168.70" y1="300.40" x2="180.30" y2="300.40" stroke="#000" stroke-width="1.1" />
<line x1="174.50" y1="297.30" x2="174.50" y2="303.30" stroke="#000" stroke-width="1.1" />
<line x1="171.20" y1="297.30" x2="177.80" y2="297.30" stroke="#000" stroke-width="1.1" />
<line x1="171.20" y1="303.30" x2="177.80" y2="303.30" stroke="#000" stroke-width="1.1" />
<polygon points="189.80,304.84 191.36,306.40 189.80,307.96 188.24,306.40" fill="#000" stroke="#000" stroke-width="0"/>
<polygon points="191.80,305.54 193.36,307.10 191.80,308.66 190.24,307.10" fill="#000" stroke="#000" stroke-width="0"/>
<polygon points="194.30,304.54 195.86,306.10 194.30,307.66 192.74,306.10" fill="#000" stroke="#000" stroke-width="0"/>
<polygon points="196.30,303.34 197.86,304.90 196.30,306.46 194.74,304.90" fill="#000" stroke="#000" stroke-width="0"/>
<polygon points="192.80,305.04 194.36,306.60 192.80,308.16 191.24,306.60" fill="#000" stroke="#000" stroke-width="0"/>
<circle cx="208.70" cy="294.10" r="1.50" fill="#000" stroke="#000" stroke-width="0"/>
<circle cx="213.40" cy="296.70" r="1.50" fill="#000" stroke="#000" stroke-width="0"/>
<circle cx="209.60" cy="303.00" r="1.30" fill="#000" stroke="#000" stroke-width="0"/>
<circle cx="212.60" cy="303.50" r="1.30" fill="#000" stroke="#000" stroke-width="0"/>
<circle cx="211.10" cy="305.50" r="1.30" fill="#000" stroke="#000" stroke-width="0"/>
<circle cx="208.60" cy="305.80" r="1.30" fill="#000" stroke="#000" stroke-width="0"/>
<circle cx="213.60" cy="305.60" r="1.30" fill="#000" stroke="#000" stroke-width="0"/>
<line x1="205.10" y1="301.60" x2="217.10" y2="301.60" stroke="#000" stroke-width="1.1" />
<line x1="211.10" y1="298.60" x2="211.10" y2="304.60" stroke="#000" stroke-width="1.1" />
<line x1="207.80" y1="298.60" x2="214.40" y2="298.60" stroke="#000" stroke-width="1.1" />
<line x1="207.80" y1="304.60" x2="214.40" y2="304.60" stroke="#000" stroke-width="1.1" />
<circle cx="224.80" cy="305.50" r="1.55" fill="#000" stroke="#000" stroke-width="0"/>
<circle cx="226.80" cy="304.40" r="1.55" fill="#000" stroke="#000" stroke-width="0"/>
<circle cx="228.80" cy="303.70" r="1.55" fill="#000" stroke="#000" stroke-width="0"/>
<circle cx="230.80" cy="304.20" r="1.55" fill="#000" stroke="#000" stroke-width="0"/>
<circle cx="232.80" cy="305.00" r="1.55" fill="#000" stroke="#000" stroke-width="0"/>
<circle cx="234.30" cy="305.80" r="1.55" fill="#000" stroke="#000" stroke-width="0"/>
<circle cx="228.30" cy="306.00" r="1.55" fill="#000" stroke="#000" stroke-width="0"/>
<circle cx="230.30" cy="306.00" r="1.55" fill="#000" stroke="#000" stroke-width="0"/>
<circle cx="229.30" cy="303.00" r="1.55" fill="#000" stroke="#000" stroke-width="0"/>
<circle cx="229.80" cy="304.40" r="0.60" fill="none" stroke="#000" stroke-width="0.5"/>
<polygon points="245.50,307.95 246.60,305.95 244.40,305.95" fill="#000" stroke="#000" stroke-width="0"/>
<polygon points="247.50,307.95 248.60,305.95 246.40,305.95" fill="#000" stroke="#000" stroke-width="0"/>
<polygon points="249.50,307.95 250.60,305.95 248.40,305.95" fill="#000" stroke="#000" stroke-width="0"/>
<polygon points="265.70,299.01 266.16,300.07 267.31,300.18 266.44,300.94 266.69,302.07 265.70,301.48 264.71,302.07 264.96,300.94 264.09,300.18 265.24,300.07" fill="#000" stroke="#000" stroke-width="0"/>
<polygon points="263.70,303.94 264.12,304.92 265.18,305.02 264.38,305.72 264.62,306.76 263.70,306.22 262.78,306.76 263.02,305.72 262.22,305.02 263.28,304.92" fill="#000" stroke="#000" stroke-width="0"/>
<polygon points="265.70,304.94 266.12,305.92 267.18,306.02 266.38,306.72 266.62,307.76 265.70,307.22 264.78,307.76 265.02,306.72 264.22,306.02 265.28,305.92" fill="#000" stroke="#000" stroke-width="0"/>
<polygon points="267.70,303.94 268.12,304.92 269.18,305.02 268.38,305.72 268.62,306.76 267.70,306.22 266.78,306.76 267.02,305.72 266.22,305.02 267.28,304.92" fill="#000" stroke="#000" stroke-width="0"/>
<polygon points="262.20,304.44 262.62,305.42 263.68,305.52 262.88,306.22 263.12,307.26 262.20,306.72 261.28,307.26 261.52,306.22 260.72,305.52 261.78,305.42" fill="#000" stroke="#000" stroke-width="0"/>
<polygon points="269.20,304.44 269.62,305.42 270.68,305.52 269.88,306.22 270.12,307.26 269.20,306.72 268.28,307.26 268.52,306.22 267.72,305.52 268.78,305.42" fill="#000" stroke="#000" stroke-width="0"/>
<line x1="260.00" y1="304.70" x2="271.50" y2="304.70" stroke="#000" stroke-width="1.2" />
<line x1="332.60" y1="155.80" x2="332.60" y2="307.20" stroke="#000" stroke-width="1.6" />
<line x1="332.00" y1="306.60" x2="516.30" y2="306.60" stroke="#000" stroke-width="1.6" />
<line x1="329.40" y1="156.20" x2="332.60" y2="156.20" stroke="#000" stroke-width="1.2" />
<text x="328.60" y="158.50" font-size="6.3" text-anchor="end" font-weight="bold" textLength="3.78" lengthAdjust="spacingAndGlyphs" stroke="#000" stroke-width="0.15">2</text>
<line x1="329.40" y1="231.20" x2="332.60" y2="231.20" stroke="#000" stroke-width="1.2" />
<text x="328.60" y="233.50" font-size="6.3" text-anchor="end" font-weight="bold" textLength="3.78" lengthAdjust="spacingAndGlyphs" stroke="#000" stroke-width="0.15">1</text>
<line x1="329.40" y1="306.20" x2="332.60" y2="306.20" stroke="#000" stroke-width="1.2" />
<text x="328.60" y="308.50" font-size="6.3" text-anchor="end" font-weight="bold" textLength="9.46" lengthAdjust="spacingAndGlyphs" stroke="#000" stroke-width="0.15">0.5</text>
<text x="313.20" y="229.30" font-size="7.8" text-anchor="middle" font-weight="bold" transform="rotate(-90 313.20 229.30)" textLength="77.12" lengthAdjust="spacingAndGlyphs" stroke="#000" stroke-width="0.35">GPR34 Expression</text>
<text x="321.30" y="229.30" font-size="7.8" text-anchor="middle" font-weight="bold" transform="rotate(-90 321.30 229.30)" textLength="58.41" lengthAdjust="spacingAndGlyphs" stroke="#000" stroke-width="0.35">(Log2 Median)</text>
<line x1="340.30" y1="306.60" x2="340.30" y2="310.00" stroke="#000" stroke-width="1.2" />
<text x="342.00" y="314.50" font-size="7.3" text-anchor="end" transform="rotate(-45 342.00 314.50)" stroke="#000" stroke-width="0.12">MALT</text>
<line x1="354.37" y1="306.60" x2="354.37" y2="310.00" stroke="#000" stroke-width="1.2" />
<text x="356.07" y="314.50" font-size="7.3" text-anchor="end" transform="rotate(-45 356.07 314.50)" stroke="#000" stroke-width="0.12">NMZBCL</text>
<line x1="368.44" y1="306.60" x2="368.44" y2="310.00" stroke="#000" stroke-width="1.2" />
<text x="370.14" y="314.50" font-size="7.3" text-anchor="end" transform="rotate(-45 370.14 314.50)" stroke="#000" stroke-width="0.12">SMZBCL</text>
<line x1="382.51" y1="306.60" x2="382.51" y2="310.00" stroke="#000" stroke-width="1.2" />
<text x="384.21" y="314.50" font-size="7.3" text-anchor="end" transform="rotate(-45 384.21 314.50)" stroke="#000" stroke-width="0.12">LPL</text>
<line x1="396.58" y1="306.60" x2="396.58" y2="310.00" stroke="#000" stroke-width="1.2" />
<text x="398.28" y="314.50" font-size="7.3" text-anchor="end" transform="rotate(-45 398.28 314.50)" stroke="#000" stroke-width="0.12">ABC</text>
<line x1="410.65" y1="306.60" x2="410.65" y2="310.00" stroke="#000" stroke-width="1.2" />
<text x="412.35" y="314.50" font-size="7.3" text-anchor="end" transform="rotate(-45 412.35 314.50)" stroke="#000" stroke-width="0.12">GCB</text>
<line x1="424.72" y1="306.60" x2="424.72" y2="310.00" stroke="#000" stroke-width="1.2" />
<text x="426.42" y="314.50" font-size="7.3" text-anchor="end" transform="rotate(-45 426.42 314.50)" stroke="#000" stroke-width="0.12">PMBCL</text>
<line x1="438.79" y1="306.60" x2="438.79" y2="310.00" stroke="#000" stroke-width="1.2" />
<text x="440.49" y="314.50" font-size="7.3" text-anchor="end" transform="rotate(-45 440.49 314.50)" stroke="#000" stroke-width="0.12">Norm Lymph</text>
<line x1="452.86" y1="306.60" x2="452.86" y2="310.00" stroke="#000" stroke-width="1.2" />
<text x="454.56" y="314.50" font-size="7.3" text-anchor="end" transform="rotate(-45 454.56 314.50)" stroke="#000" stroke-width="0.12">Naive</text>
<line x1="466.93" y1="306.60" x2="466.93" y2="310.00" stroke="#000" stroke-width="1.2" />
<text x="468.63" y="314.50" font-size="7.3" text-anchor="end" transform="rotate(-45 468.63 314.50)" stroke="#000" stroke-width="0.12">Memory</text>
<line x1="481.00" y1="306.60" x2="481.00" y2="310.00" stroke="#000" stroke-width="1.2" />
<text x="482.70" y="314.50" font-size="7.3" text-anchor="end" transform="rotate(-45 482.70 314.50)" stroke="#000" stroke-width="0.12">Glioma</text>
<line x1="495.07" y1="306.60" x2="495.07" y2="310.00" stroke="#000" stroke-width="1.2" />
<text x="496.77" y="314.50" font-size="7.3" text-anchor="end" transform="rotate(-45 496.77 314.50)" stroke="#000" stroke-width="0.12">Brn Cell Line</text>
<line x1="509.14" y1="306.60" x2="509.14" y2="310.00" stroke="#000" stroke-width="1.2" />
<text x="510.84" y="314.50" font-size="7.3" text-anchor="end" transform="rotate(-45 510.84 314.50)" stroke="#000" stroke-width="0.12">Normal Brn</text>
<line x1="474.50" y1="160.00" x2="474.50" y2="302.50" stroke="#000" stroke-width="1.2" />
<line x1="358.80" y1="170.80" x2="349.00" y2="177.00" stroke="#000" stroke-width="1.3" />
<polygon points="346.4,178.8 349.4,173.8 352,177.8" fill="#000"/>
<text x="360.00" y="170.60" font-size="5.3" text-anchor="start" font-weight="bold" textLength="21.60" lengthAdjust="spacingAndGlyphs" stroke="#000" stroke-width="0.25">t(X;14)</text>
<circle cx="340.30" cy="182.00" r="0.85" fill="#000" stroke="#000" stroke-width="0"/>
<path d="M339.03,182.00H341.57M340.30,180.72V183.28" stroke="#000" stroke-width="0.59" fill="none"/>
<circle cx="338.90" cy="193.40" r="0.85" fill="#000" stroke="#000" stroke-width="0"/>
<path d="M337.63,193.40H340.18M338.90,192.12V194.68" stroke="#000" stroke-width="0.59" fill="none"/>
<circle cx="343.00" cy="193.40" r="0.85" fill="#000" stroke="#000" stroke-width="0"/>
<path d="M341.73,193.40H344.27M343.00,192.12V194.68" stroke="#000" stroke-width="0.59" fill="none"/>
<circle cx="339.80" cy="196.80" r="0.85" fill="#000" stroke="#000" stroke-width="0"/>
<path d="M338.53,196.80H341.07M339.80,195.53V198.08" stroke="#000" stroke-width="0.59" fill="none"/>
<circle cx="341.50" cy="198.50" r="0.85" fill="#000" stroke="#000" stroke-width="0"/>
<path d="M340.23,198.50H342.77M341.50,197.22V199.78" stroke="#000" stroke-width="0.59" fill="none"/>
<circle cx="338.50" cy="200.20" r="0.85" fill="#000" stroke="#000" stroke-width="0"/>
<path d="M337.23,200.20H339.77M338.50,198.92V201.47" stroke="#000" stroke-width="0.59" fill="none"/>
<circle cx="340.30" cy="203.50" r="0.85" fill="#000" stroke="#000" stroke-width="0"/>
<path d="M339.03,203.50H341.57M340.30,202.22V204.78" stroke="#000" stroke-width="0.59" fill="none"/>
<circle cx="342.60" cy="204.80" r="0.85" fill="#000" stroke="#000" stroke-width="0"/>
<path d="M341.33,204.80H343.88M342.60,203.53V206.08" stroke="#000" stroke-width="0.59" fill="none"/>
<circle cx="343.34" cy="208.05" r="0.85" fill="#000" stroke="#000" stroke-width="0"/>
<path d="M342.06,208.05H344.61M343.34,206.77V209.32" stroke="#000" stroke-width="0.59" fill="none"/>
<circle cx="338.93" cy="208.70" r="0.85" fill="#000" stroke="#000" stroke-width="0"/>
<path d="M337.66,208.70H340.21M338.93,207.43V209.98" stroke="#000" stroke-width="0.59" fill="none"/>
<circle cx="340.56" cy="209.20" r="0.85" fill="#000" stroke="#000" stroke-width="0"/>
<path d="M339.28,209.20H341.83M340.56,207.92V210.47" stroke="#000" stroke-width="0.59" fill="none"/>
<circle cx="341.99" cy="210.15" r="0.85" fill="#000" stroke="#000" stroke-width="0"/>
<path d="M340.71,210.15H343.26M341.99,208.87V211.42" stroke="#000" stroke-width="0.59" fill="none"/>
<circle cx="337.29" cy="210.71" r="0.85" fill="#000" stroke="#000" stroke-width="0"/>
<path d="M336.01,210.71H338.56M337.29,209.43V211.98" stroke="#000" stroke-width="0.59" fill="none"/>
<circle cx="338.86" cy="211.15" r="0.85" fill="#000" stroke="#000" stroke-width="0"/>
<path d="M337.58,211.15H340.13M338.86,209.88V212.43" stroke="#000" stroke-width="0.59" fill="none"/>
<circle cx="340.47" cy="211.33" r="0.85" fill="#000" stroke="#000" stroke-width="0"/>
<path d="M339.19,211.33H341.74M340.47,210.05V212.60" stroke="#000" stroke-width="0.59" fill="none"/>
<circle cx="342.03" cy="211.46" r="0.85" fill="#000" stroke="#000" stroke-width="0"/>
<path d="M340.76,211.46H343.31M342.03,210.19V212.74" stroke="#000" stroke-width="0.59" fill="none"/>
<circle cx="337.27" cy="211.48" r="0.85" fill="#000" stroke="#000" stroke-width="0"/>
<path d="M335.99,211.48H338.54M337.27,210.20V212.75" stroke="#000" stroke-width="0.59" fill="none"/>
<circle cx="338.65" cy="211.64" r="0.85" fill="#000" stroke="#000" stroke-width="0"/>
<path d="M337.37,211.64H339.92M338.65,210.36V212.91" stroke="#000" stroke-width="0.59" fill="none"/>
<circle cx="340.03" cy="211.97" r="0.85" fill="#000" stroke="#000" stroke-width="0"/>
<path d="M338.75,211.97H341.30M340.03,210.70V213.25" stroke="#000" stroke-width="0.59" fill="none"/>
<circle cx="343.42" cy="212.82" r="0.85" fill="#000" stroke="#000" stroke-width="0"/>
<path d="M342.14,212.82H344.69M343.42,211.54V214.09" stroke="#000" stroke-width="0.59" fill="none"/>
<circle cx="338.53" cy="212.84" r="0.85" fill="#000" stroke="#000" stroke-width="0"/>
<path d="M337.25,212.84H339.80M338.53,211.57V214.12" stroke="#000" stroke-width="0.59" fill="none"/>
<circle cx="341.76" cy="212.96" r="0.85" fill="#000" stroke="#000" stroke-width="0"/>
<path d="M340.48,212.96H343.03M341.76,211.68V214.23" stroke="#000" stroke-width="0.59" fill="none"/>
<circle cx="343.90" cy="213.01" r="0.85" fill="#000" stroke="#000" stroke-width="0"/>
<path d="M342.63,213.01H345.18M343.90,211.73V214.28" stroke="#000" stroke-width="0.59" fill="none"/>
<circle cx="336.74" cy="213.02" r="0.85" fill="#000" stroke="#000" stroke-width="0"/>
<path d="M335.46,213.02H338.01M336.74,211.75V214.30" stroke="#000" stroke-width="0.59" fill="none"/>
<circle cx="340.34" cy="213.27" r="0.85" fill="#000" stroke="#000" stroke-width="0"/>
<path d="M339.07,213.27H341.62M340.34,212.00V214.55" stroke="#000" stroke-width="0.59" fill="none"/>
<circle cx="341.75" cy="213.52" r="0.85" fill="#000" stroke="#000" stroke-width="0"/>
<path d="M340.47,213.52H343.02M341.75,212.25V214.80" stroke="#000" stroke-width="0.59" fill="none"/>
<circle cx="343.77" cy="213.54" r="0.85" fill="#000" stroke="#000" stroke-width="0"/>
<path d="M342.50,213.54H345.05M343.77,212.27V214.82" stroke="#000" stroke-width="0.59" fill="none"/>
<circle cx="336.84" cy="213.74" r="0.85" fill="#000" stroke="#000" stroke-width="0"/>
<path d="M335.56,213.74H338.11M336.84,212.46V215.01" stroke="#000" stroke-width="0.59" fill="none"/>
<circle cx="340.12" cy="213.90" r="0.85" fill="#000" stroke="#000" stroke-width="0"/>
<path d="M338.85,213.90H341.40M340.12,212.63V215.18" stroke="#000" stroke-width="0.59" fill="none"/>
<circle cx="341.67" cy="215.61" r="0.85" fill="#000" stroke="#000" stroke-width="0"/>
<path d="M340.40,215.61H342.95M341.67,214.34V216.89" stroke="#000" stroke-width="0.59" fill="none"/>
<circle cx="337.02" cy="215.62" r="0.85" fill="#000" stroke="#000" stroke-width="0"/>
<path d="M335.75,215.62H338.30M337.02,214.34V216.89" stroke="#000" stroke-width="0.59" fill="none"/>
<circle cx="338.41" cy="216.10" r="0.85" fill="#000" stroke="#000" stroke-width="0"/>
<path d="M337.14,216.10H339.69M338.41,214.82V217.37" stroke="#000" stroke-width="0.59" fill="none"/>
<circle cx="338.42" cy="219.68" r="0.80" fill="#000" stroke="#000" stroke-width="0"/>
<path d="M337.22,219.68H339.62M338.42,218.48V220.88" stroke="#000" stroke-width="0.56" fill="none"/>
<circle cx="339.57" cy="221.31" r="0.80" fill="#000" stroke="#000" stroke-width="0"/>
<path d="M338.37,221.31H340.77M339.57,220.11V222.51" stroke="#000" stroke-width="0.56" fill="none"/>
<circle cx="341.09" cy="222.33" r="0.80" fill="#000" stroke="#000" stroke-width="0"/>
<path d="M339.89,222.33H342.29M341.09,221.13V223.53" stroke="#000" stroke-width="0.56" fill="none"/>
<circle cx="337.97" cy="222.54" r="0.80" fill="#000" stroke="#000" stroke-width="0"/>
<path d="M336.77,222.54H339.17M337.97,221.34V223.74" stroke="#000" stroke-width="0.56" fill="none"/>
<circle cx="339.20" cy="222.94" r="0.80" fill="#000" stroke="#000" stroke-width="0"/>
<path d="M338.00,222.94H340.40M339.20,221.74V224.14" stroke="#000" stroke-width="0.56" fill="none"/>
<circle cx="342.67" cy="223.51" r="0.80" fill="#000" stroke="#000" stroke-width="0"/>
<path d="M341.47,223.51H343.87M342.67,222.31V224.71" stroke="#000" stroke-width="0.56" fill="none"/>
<circle cx="338.31" cy="224.73" r="0.80" fill="#000" stroke="#000" stroke-width="0"/>
<path d="M337.11,224.73H339.51M338.31,223.53V225.93" stroke="#000" stroke-width="0.56" fill="none"/>
<circle cx="341.00" cy="226.35" r="0.80" fill="#000" stroke="#000" stroke-width="0"/>
<path d="M339.80,226.35H342.20M341.00,225.15V227.55" stroke="#000" stroke-width="0.56" fill="none"/>
<circle cx="338.38" cy="226.55" r="0.80" fill="#000" stroke="#000" stroke-width="0"/>
<path d="M337.18,226.55H339.58M338.38,225.35V227.75" stroke="#000" stroke-width="0.56" fill="none"/>
<circle cx="340.30" cy="231.90" r="0.85" fill="#000" stroke="#000" stroke-width="0"/>
<path d="M339.03,231.90H341.57M340.30,230.62V233.18" stroke="#000" stroke-width="0.59" fill="none"/>
<circle cx="354.30" cy="196.80" r="1.40" fill="none" stroke="#000" stroke-width="1.0"/>
<circle cx="351.78" cy="205.66" r="1.40" fill="none" stroke="#000" stroke-width="1.0"/>
<circle cx="354.01" cy="205.85" r="1.40" fill="none" stroke="#000" stroke-width="1.0"/>
<circle cx="357.25" cy="206.69" r="1.40" fill="none" stroke="#000" stroke-width="1.0"/>
<circle cx="354.46" cy="206.97" r="1.40" fill="none" stroke="#000" stroke-width="1.0"/>
<circle cx="352.00" cy="207.87" r="1.40" fill="none" stroke="#000" stroke-width="1.0"/>
<circle cx="356.86" cy="208.26" r="1.40" fill="none" stroke="#000" stroke-width="1.0"/>
<circle cx="351.71" cy="208.30" r="1.40" fill="none" stroke="#000" stroke-width="1.0"/>
<circle cx="351.38" cy="218.80" r="1.40" fill="none" stroke="#000" stroke-width="1.0"/>
<circle cx="355.09" cy="219.68" r="1.40" fill="none" stroke="#000" stroke-width="1.0"/>
<circle cx="351.71" cy="220.02" r="1.40" fill="none" stroke="#000" stroke-width="1.0"/>
<circle cx="353.57" cy="220.43" r="1.40" fill="none" stroke="#000" stroke-width="1.0"/>
<circle cx="356.90" cy="222.69" r="1.40" fill="none" stroke="#000" stroke-width="1.0"/>
<circle cx="353.10" cy="223.12" r="1.40" fill="none" stroke="#000" stroke-width="1.0"/>
<circle cx="355.30" cy="223.47" r="1.40" fill="none" stroke="#000" stroke-width="1.0"/>
<circle cx="357.25" cy="225.07" r="1.40" fill="none" stroke="#000" stroke-width="1.0"/>
<circle cx="353.53" cy="225.45" r="1.40" fill="none" stroke="#000" stroke-width="1.0"/>
<circle cx="355.27" cy="225.50" r="1.40" fill="none" stroke="#000" stroke-width="1.0"/>
<circle cx="351.80" cy="226.76" r="1.40" fill="none" stroke="#000" stroke-width="1.0"/>
<circle cx="355.22" cy="227.41" r="1.40" fill="none" stroke="#000" stroke-width="1.0"/>
<circle cx="351.62" cy="228.68" r="1.40" fill="none" stroke="#000" stroke-width="1.0"/>
<circle cx="355.17" cy="229.03" r="1.40" fill="none" stroke="#000" stroke-width="1.0"/>
<circle cx="356.94" cy="230.60" r="1.40" fill="none" stroke="#000" stroke-width="1.0"/>
<circle cx="351.62" cy="231.06" r="1.40" fill="none" stroke="#000" stroke-width="1.0"/>
<circle cx="355.35" cy="231.42" r="1.40" fill="none" stroke="#000" stroke-width="1.0"/>
<circle cx="354.30" cy="240.20" r="1.40" fill="none" stroke="#000" stroke-width="1.0"/>
<circle cx="351.90" cy="243.00" r="1.40" fill="none" stroke="#000" stroke-width="1.0"/>
<circle cx="354.60" cy="245.60" r="1.40" fill="none" stroke="#000" stroke-width="1.0"/>
<circle cx="356.70" cy="248.40" r="1.40" fill="none" stroke="#000" stroke-width="1.0"/>
<circle cx="353.90" cy="249.80" r="1.40" fill="none" stroke="#000" stroke-width="1.0"/>
<rect x="366.95" y="193.25" width="2.90" height="2.90" fill="none" stroke="#000" stroke-width="1.0"/>
<rect x="366.95" y="200.05" width="2.90" height="2.90" fill="none" stroke="#000" stroke-width="1.0"/>
<rect x="366.95" y="206.85" width="2.90" height="2.90" fill="none" stroke="#000" stroke-width="1.0"/>
<rect x="364.21" y="209.25" width="2.80" height="2.80" fill="none" stroke="#000" stroke-width="1.0"/>
<rect x="367.54" y="209.44" width="2.80" height="2.80" fill="none" stroke="#000" stroke-width="1.0"/>
<rect x="364.29" y="209.57" width="2.80" height="2.80" fill="none" stroke="#000" stroke-width="1.0"/>
<rect x="366.11" y="210.08" width="2.80" height="2.80" fill="none" stroke="#000" stroke-width="1.0"/>
<rect x="369.47" y="212.14" width="2.80" height="2.80" fill="none" stroke="#000" stroke-width="1.0"/>
<rect x="364.22" y="212.25" width="2.80" height="2.80" fill="none" stroke="#000" stroke-width="1.0"/>
<rect x="366.00" y="213.13" width="2.80" height="2.80" fill="none" stroke="#000" stroke-width="1.0"/>
<rect x="369.84" y="213.14" width="2.80" height="2.80" fill="none" stroke="#000" stroke-width="1.0"/>
<rect x="366.23" y="213.60" width="2.80" height="2.80" fill="none" stroke="#000" stroke-width="1.0"/>
<rect x="369.33" y="214.48" width="2.80" height="2.80" fill="none" stroke="#000" stroke-width="1.0"/>
<rect x="364.39" y="215.29" width="2.80" height="2.80" fill="none" stroke="#000" stroke-width="1.0"/>
<rect x="365.88" y="216.14" width="2.80" height="2.80" fill="none" stroke="#000" stroke-width="1.0"/>
<rect x="369.54" y="216.99" width="2.80" height="2.80" fill="none" stroke="#000" stroke-width="1.0"/>
<rect x="366.19" y="219.31" width="2.80" height="2.80" fill="none" stroke="#000" stroke-width="1.0"/>
<rect x="367.60" y="219.51" width="2.80" height="2.80" fill="none" stroke="#000" stroke-width="1.0"/>
<rect x="369.45" y="219.91" width="2.80" height="2.80" fill="none" stroke="#000" stroke-width="1.0"/>
<rect x="364.27" y="219.98" width="2.80" height="2.80" fill="none" stroke="#000" stroke-width="1.0"/>
<rect x="367.93" y="221.02" width="2.80" height="2.80" fill="none" stroke="#000" stroke-width="1.0"/>
<rect x="369.48" y="223.19" width="2.80" height="2.80" fill="none" stroke="#000" stroke-width="1.0"/>
<rect x="366.51" y="223.53" width="2.80" height="2.80" fill="none" stroke="#000" stroke-width="1.0"/>
<rect x="369.56" y="223.55" width="2.80" height="2.80" fill="none" stroke="#000" stroke-width="1.0"/>
<rect x="364.68" y="224.13" width="2.80" height="2.80" fill="none" stroke="#000" stroke-width="1.0"/>
<rect x="367.82" y="224.81" width="2.80" height="2.80" fill="none" stroke="#000" stroke-width="1.0"/>
<rect x="364.73" y="225.11" width="2.80" height="2.80" fill="none" stroke="#000" stroke-width="1.0"/>
<rect x="366.22" y="225.50" width="2.80" height="2.80" fill="none" stroke="#000" stroke-width="1.0"/>
<rect x="369.37" y="226.47" width="2.80" height="2.80" fill="none" stroke="#000" stroke-width="1.0"/>
<rect x="366.52" y="227.28" width="2.80" height="2.80" fill="none" stroke="#000" stroke-width="1.0"/>
<rect x="367.66" y="227.65" width="2.80" height="2.80" fill="none" stroke="#000" stroke-width="1.0"/>
<rect x="369.83" y="228.17" width="2.80" height="2.80" fill="none" stroke="#000" stroke-width="1.0"/>
<rect x="366.25" y="231.14" width="2.80" height="2.80" fill="none" stroke="#000" stroke-width="1.0"/>
<rect x="366.95" y="240.85" width="2.90" height="2.90" fill="none" stroke="#000" stroke-width="1.0"/>
<rect x="366.95" y="271.45" width="2.90" height="2.90" fill="none" stroke="#000" stroke-width="1.0"/>
<circle cx="382.40" cy="195.40" r="0.75" fill="#000" stroke="#000" stroke-width="0"/>
<path d="M381.27,195.40H383.52M382.40,194.28V196.53" stroke="#000" stroke-width="0.52" fill="none"/>
<circle cx="380.60" cy="204.30" r="0.75" fill="#000" stroke="#000" stroke-width="0"/>
<path d="M379.47,204.30H381.72M380.60,203.18V205.43" stroke="#000" stroke-width="0.52" fill="none"/>
<circle cx="383.20" cy="205.00" r="0.75" fill="#000" stroke="#000" stroke-width="0"/>
<path d="M382.07,205.00H384.32M383.20,203.88V206.12" stroke="#000" stroke-width="0.52" fill="none"/>
<circle cx="380.20" cy="210.50" r="0.75" fill="#000" stroke="#000" stroke-width="0"/>
<path d="M379.07,210.50H381.32M380.20,209.38V211.62" stroke="#000" stroke-width="0.52" fill="none"/>
<circle cx="384.90" cy="211.00" r="0.75" fill="#000" stroke="#000" stroke-width="0"/>
<path d="M383.77,211.00H386.02M384.90,209.88V212.12" stroke="#000" stroke-width="0.52" fill="none"/>
<circle cx="382.40" cy="213.00" r="0.75" fill="#000" stroke="#000" stroke-width="0"/>
<path d="M381.27,213.00H383.52M382.40,211.88V214.12" stroke="#000" stroke-width="0.52" fill="none"/>
<circle cx="379.90" cy="215.50" r="0.75" fill="#000" stroke="#000" stroke-width="0"/>
<path d="M378.77,215.50H381.02M379.90,214.38V216.62" stroke="#000" stroke-width="0.52" fill="none"/>
<circle cx="384.90" cy="216.00" r="0.75" fill="#000" stroke="#000" stroke-width="0"/>
<path d="M383.77,216.00H386.02M384.90,214.88V217.12" stroke="#000" stroke-width="0.52" fill="none"/>
<circle cx="382.40" cy="238.30" r="0.75" fill="#000" stroke="#000" stroke-width="0"/>
<path d="M381.27,238.30H383.52M382.40,237.18V239.43" stroke="#000" stroke-width="0.52" fill="none"/>
<circle cx="382.40" cy="242.30" r="0.75" fill="#000" stroke="#000" stroke-width="0"/>
<path d="M381.27,242.30H383.52M382.40,241.18V243.43" stroke="#000" stroke-width="0.52" fill="none"/>
<circle cx="382.34" cy="218.42" r="0.80" fill="#000" stroke="#000" stroke-width="0"/>
<path d="M381.14,218.42H383.54M382.34,217.22V219.62" stroke="#000" stroke-width="0.56" fill="none"/>
<circle cx="385.84" cy="219.20" r="0.80" fill="#000" stroke="#000" stroke-width="0"/>
<path d="M384.64,219.20H387.04M385.84,218.00V220.40" stroke="#000" stroke-width="0.56" fill="none"/>
<circle cx="380.60" cy="220.10" r="0.80" fill="#000" stroke="#000" stroke-width="0"/>
<path d="M379.40,220.10H381.80M380.60,218.90V221.30" stroke="#000" stroke-width="0.56" fill="none"/>
<circle cx="384.15" cy="220.51" r="0.80" fill="#000" stroke="#000" stroke-width="0"/>
<path d="M382.95,220.51H385.35M384.15,219.31V221.71" stroke="#000" stroke-width="0.56" fill="none"/>
<circle cx="378.82" cy="220.56" r="0.80" fill="#000" stroke="#000" stroke-width="0"/>
<path d="M377.62,220.56H380.02M378.82,219.36V221.76" stroke="#000" stroke-width="0.56" fill="none"/>
<circle cx="380.38" cy="220.62" r="0.80" fill="#000" stroke="#000" stroke-width="0"/>
<path d="M379.18,220.62H381.58M380.38,219.42V221.82" stroke="#000" stroke-width="0.56" fill="none"/>
<circle cx="382.70" cy="220.71" r="0.80" fill="#000" stroke="#000" stroke-width="0"/>
<path d="M381.50,220.71H383.90M382.70,219.51V221.91" stroke="#000" stroke-width="0.56" fill="none"/>
<circle cx="384.34" cy="220.83" r="0.80" fill="#000" stroke="#000" stroke-width="0"/>
<path d="M383.14,220.83H385.54M384.34,219.63V222.03" stroke="#000" stroke-width="0.56" fill="none"/>
<circle cx="385.67" cy="221.02" r="0.80" fill="#000" stroke="#000" stroke-width="0"/>
<path d="M384.47,221.02H386.87M385.67,219.82V222.22" stroke="#000" stroke-width="0.56" fill="none"/>
<circle cx="378.61" cy="221.41" r="0.80" fill="#000" stroke="#000" stroke-width="0"/>
<path d="M377.41,221.41H379.81M378.61,220.21V222.61" stroke="#000" stroke-width="0.56" fill="none"/>
<circle cx="382.28" cy="221.90" r="0.80" fill="#000" stroke="#000" stroke-width="0"/>
<path d="M381.08,221.90H383.48M382.28,220.70V223.10" stroke="#000" stroke-width="0.56" fill="none"/>
<circle cx="385.82" cy="222.66" r="0.80" fill="#000" stroke="#000" stroke-width="0"/>
<path d="M384.62,222.66H387.02M385.82,221.46V223.86" stroke="#000" stroke-width="0.56" fill="none"/>
<circle cx="380.43" cy="225.20" r="0.75" fill="#000" stroke="#000" stroke-width="0"/>
<path d="M379.30,225.20H381.55M380.43,224.07V226.32" stroke="#000" stroke-width="0.52" fill="none"/>
<circle cx="382.42" cy="229.24" r="0.75" fill="#000" stroke="#000" stroke-width="0"/>
<path d="M381.30,229.24H383.55M382.42,228.11V230.36" stroke="#000" stroke-width="0.52" fill="none"/>
<circle cx="384.21" cy="229.25" r="0.75" fill="#000" stroke="#000" stroke-width="0"/>
<path d="M383.09,229.25H385.34M384.21,228.12V230.37" stroke="#000" stroke-width="0.52" fill="none"/>
<circle cx="382.68" cy="229.95" r="0.75" fill="#000" stroke="#000" stroke-width="0"/>
<path d="M381.56,229.95H383.81M382.68,228.82V231.07" stroke="#000" stroke-width="0.52" fill="none"/>
<circle cx="380.47" cy="230.30" r="0.75" fill="#000" stroke="#000" stroke-width="0"/>
<path d="M379.35,230.30H381.60M380.47,229.17V231.42" stroke="#000" stroke-width="0.52" fill="none"/>
<circle cx="382.20" cy="230.38" r="0.75" fill="#000" stroke="#000" stroke-width="0"/>
<path d="M381.08,230.38H383.33M382.20,229.26V231.51" stroke="#000" stroke-width="0.52" fill="none"/>
<circle cx="384.67" cy="230.96" r="0.75" fill="#000" stroke="#000" stroke-width="0"/>
<path d="M383.55,230.96H385.80M384.67,229.84V232.09" stroke="#000" stroke-width="0.52" fill="none"/>
<circle cx="380.67" cy="231.10" r="0.75" fill="#000" stroke="#000" stroke-width="0"/>
<path d="M379.55,231.10H381.80M380.67,229.98V232.23" stroke="#000" stroke-width="0.52" fill="none"/>
<circle cx="382.56" cy="232.24" r="0.75" fill="#000" stroke="#000" stroke-width="0"/>
<path d="M381.43,232.24H383.68M382.56,231.12V233.37" stroke="#000" stroke-width="0.52" fill="none"/>
<circle cx="380.32" cy="232.47" r="0.75" fill="#000" stroke="#000" stroke-width="0"/>
<path d="M379.20,232.47H381.45M380.32,231.34V233.59" stroke="#000" stroke-width="0.52" fill="none"/>
<line x1="378.60" y1="221.00" x2="386.20" y2="221.00" stroke="#000" stroke-width="1.0" />
<line x1="382.40" y1="218.60" x2="382.40" y2="223.40" stroke="#000" stroke-width="1.0" />
<line x1="380.20" y1="218.60" x2="384.60" y2="218.60" stroke="#000" stroke-width="1.0" />
<line x1="380.20" y1="223.40" x2="384.60" y2="223.40" stroke="#000" stroke-width="1.0" />
<polygon points="396.40,190.43 398.00,193.33 394.80,193.33" fill="none" stroke="#000" stroke-width="1.0"/>
<polygon points="396.40,196.54 398.00,199.44 394.81,199.44" fill="none" stroke="#000" stroke-width="1.0"/>
<polygon points="398.51,197.86 400.11,200.76 396.92,200.76" fill="none" stroke="#000" stroke-width="1.0"/>
<polygon points="396.12,199.84 397.72,202.74 394.53,202.74" fill="none" stroke="#000" stroke-width="1.0"/>
<polygon points="398.48,199.89 400.08,202.79 396.89,202.79" fill="none" stroke="#000" stroke-width="1.0"/>
<polygon points="396.15,200.81 397.75,203.71 394.56,203.71" fill="none" stroke="#000" stroke-width="1.0"/>
<polygon points="398.03,202.18 399.63,205.08 396.44,205.08" fill="none" stroke="#000" stroke-width="1.0"/>
<polygon points="394.74,202.51 396.33,205.41 393.14,205.41" fill="none" stroke="#000" stroke-width="1.0"/>
<polygon points="398.60,203.25 400.19,206.15 397.00,206.15" fill="none" stroke="#000" stroke-width="1.0"/>
<polygon points="394.56,204.21 396.15,207.11 392.96,207.11" fill="none" stroke="#000" stroke-width="1.0"/>
<polygon points="396.72,205.40 398.31,208.30 395.12,208.30" fill="none" stroke="#000" stroke-width="1.0"/>
<polygon points="394.20,205.68 395.80,208.58 392.61,208.58" fill="none" stroke="#000" stroke-width="1.0"/>
<polygon points="396.28,207.19 397.87,210.09 394.68,210.09" fill="none" stroke="#000" stroke-width="1.0"/>
<polygon points="394.90,213.93 396.50,216.83 393.30,216.83" fill="none" stroke="#000" stroke-width="1.0"/>
<polygon points="397.90,213.73 399.50,216.63 396.30,216.63" fill="none" stroke="#000" stroke-width="1.0"/>
<polygon points="397.52,218.54 399.11,221.44 395.92,221.44" fill="none" stroke="#000" stroke-width="1.0"/>
<polygon points="399.13,218.65 400.73,221.55 397.54,221.55" fill="none" stroke="#000" stroke-width="1.0"/>
<polygon points="393.62,218.73 395.22,221.63 392.03,221.63" fill="none" stroke="#000" stroke-width="1.0"/>
<polygon points="395.42,219.02 397.02,221.92 393.83,221.92" fill="none" stroke="#000" stroke-width="1.0"/>
<polygon points="397.55,220.09 399.14,222.99 395.95,222.99" fill="none" stroke="#000" stroke-width="1.0"/>
<polygon points="399.05,220.87 400.65,223.77 397.46,223.77" fill="none" stroke="#000" stroke-width="1.0"/>
<polygon points="395.44,221.95 397.04,224.85 393.85,224.85" fill="none" stroke="#000" stroke-width="1.0"/>
<polygon points="399.17,224.54 400.76,227.44 397.57,227.44" fill="none" stroke="#000" stroke-width="1.0"/>
<polygon points="395.52,225.17 397.12,228.07 393.93,228.07" fill="none" stroke="#000" stroke-width="1.0"/>
<polygon points="399.21,225.70 400.80,228.60 397.61,228.60" fill="none" stroke="#000" stroke-width="1.0"/>
<polygon points="395.61,225.72 397.21,228.62 394.02,228.62" fill="none" stroke="#000" stroke-width="1.0"/>
<polygon points="398.77,227.14 400.36,230.04 397.17,230.04" fill="none" stroke="#000" stroke-width="1.0"/>
<polygon points="393.76,227.87 395.36,230.77 392.17,230.77" fill="none" stroke="#000" stroke-width="1.0"/>
<polygon points="395.44,228.09 397.03,230.99 393.84,230.99" fill="none" stroke="#000" stroke-width="1.0"/>
<polygon points="398.79,228.15 400.38,231.05 397.19,231.05" fill="none" stroke="#000" stroke-width="1.0"/>
<polygon points="395.67,231.24 397.27,234.14 394.08,234.14" fill="none" stroke="#000" stroke-width="1.0"/>
<polygon points="397.36,231.39 398.95,234.29 395.76,234.29" fill="none" stroke="#000" stroke-width="1.0"/>
<polygon points="393.40,231.93 395.00,234.83 391.81,234.83" fill="none" stroke="#000" stroke-width="1.0"/>
<polygon points="395.45,232.71 397.05,235.61 393.86,235.61" fill="none" stroke="#000" stroke-width="1.0"/>
<polygon points="398.93,233.25 400.52,236.15 397.33,236.15" fill="none" stroke="#000" stroke-width="1.0"/>
<polygon points="393.38,233.71 394.98,236.61 391.79,236.61" fill="none" stroke="#000" stroke-width="1.0"/>
<polygon points="395.81,233.83 397.40,236.73 394.21,236.73" fill="none" stroke="#000" stroke-width="1.0"/>
<polygon points="398.85,233.86 400.45,236.76 397.26,236.76" fill="none" stroke="#000" stroke-width="1.0"/>
<polygon points="393.77,233.87 395.37,236.77 392.18,236.77" fill="none" stroke="#000" stroke-width="1.0"/>
<polygon points="395.19,233.88 396.78,236.78 393.59,236.78" fill="none" stroke="#000" stroke-width="1.0"/>
<polygon points="399.07,234.82 400.66,237.72 397.47,237.72" fill="none" stroke="#000" stroke-width="1.0"/>
<polygon points="393.95,235.75 395.55,238.65 392.36,238.65" fill="none" stroke="#000" stroke-width="1.0"/>
<polygon points="397.32,236.25 398.91,239.15 395.72,239.15" fill="none" stroke="#000" stroke-width="1.0"/>
<polygon points="399.00,236.32 400.60,239.22 397.41,239.22" fill="none" stroke="#000" stroke-width="1.0"/>
<polygon points="393.82,237.70 395.41,240.60 392.22,240.60" fill="none" stroke="#000" stroke-width="1.0"/>
<polygon points="397.37,237.84 398.97,240.74 395.78,240.74" fill="none" stroke="#000" stroke-width="1.0"/>
<polygon points="393.60,238.02 395.20,240.92 392.01,240.92" fill="none" stroke="#000" stroke-width="1.0"/>
<polygon points="395.82,238.13 397.41,241.03 394.22,241.03" fill="none" stroke="#000" stroke-width="1.0"/>
<polygon points="397.12,238.82 398.71,241.72 395.52,241.72" fill="none" stroke="#000" stroke-width="1.0"/>
<polygon points="399.10,239.47 400.70,242.37 397.51,242.37" fill="none" stroke="#000" stroke-width="1.0"/>
<polygon points="395.70,240.23 397.29,243.13 394.10,243.13" fill="none" stroke="#000" stroke-width="1.0"/>
<polygon points="398.94,241.40 400.54,244.30 397.35,244.30" fill="none" stroke="#000" stroke-width="1.0"/>
<polygon points="393.79,241.45 395.39,244.35 392.20,244.35" fill="none" stroke="#000" stroke-width="1.0"/>
<polygon points="395.28,242.01 396.88,244.91 393.69,244.91" fill="none" stroke="#000" stroke-width="1.0"/>
<polygon points="397.30,242.34 398.90,245.24 395.71,245.24" fill="none" stroke="#000" stroke-width="1.0"/>
<polygon points="399.37,242.55 400.96,245.45 397.77,245.45" fill="none" stroke="#000" stroke-width="1.0"/>
<polygon points="393.79,242.91 395.38,245.81 392.19,245.81" fill="none" stroke="#000" stroke-width="1.0"/>
<polygon points="395.34,243.05 396.93,245.95 393.74,245.95" fill="none" stroke="#000" stroke-width="1.0"/>
<polygon points="398.77,243.73 400.36,246.63 397.17,246.63" fill="none" stroke="#000" stroke-width="1.0"/>
<polygon points="393.42,243.98 395.02,246.88 391.83,246.88" fill="none" stroke="#000" stroke-width="1.0"/>
<polygon points="397.00,245.09 398.60,247.99 395.41,247.99" fill="none" stroke="#000" stroke-width="1.0"/>
<polygon points="399.39,245.33 400.98,248.23 397.79,248.23" fill="none" stroke="#000" stroke-width="1.0"/>
<polygon points="393.74,245.34 395.33,248.24 392.14,248.24" fill="none" stroke="#000" stroke-width="1.0"/>
<polygon points="397.29,245.47 398.88,248.37 395.69,248.37" fill="none" stroke="#000" stroke-width="1.0"/>
<polygon points="393.50,246.17 395.09,249.07 391.90,249.07" fill="none" stroke="#000" stroke-width="1.0"/>
<polygon points="397.30,246.80 398.89,249.70 395.70,249.70" fill="none" stroke="#000" stroke-width="1.0"/>
<polygon points="399.34,246.82 400.93,249.72 397.74,249.72" fill="none" stroke="#000" stroke-width="1.0"/>
<polygon points="393.91,247.02 395.51,249.92 392.32,249.92" fill="none" stroke="#000" stroke-width="1.0"/>
<polygon points="397.52,247.69 399.11,250.59 395.92,250.59" fill="none" stroke="#000" stroke-width="1.0"/>
<polygon points="399.06,247.82 400.66,250.72 397.47,250.72" fill="none" stroke="#000" stroke-width="1.0"/>
<polygon points="395.42,247.90 397.02,250.80 393.83,250.80" fill="none" stroke="#000" stroke-width="1.0"/>
<polygon points="397.21,248.32 398.80,251.22 395.61,251.22" fill="none" stroke="#000" stroke-width="1.0"/>
<polygon points="393.55,249.24 395.15,252.14 391.96,252.14" fill="none" stroke="#000" stroke-width="1.0"/>
<polygon points="395.45,249.36 397.04,252.26 393.85,252.26" fill="none" stroke="#000" stroke-width="1.0"/>
<polygon points="399.16,249.74 400.75,252.64 397.56,252.64" fill="none" stroke="#000" stroke-width="1.0"/>
<polygon points="395.76,250.89 397.36,253.79 394.17,253.79" fill="none" stroke="#000" stroke-width="1.0"/>
<polygon points="397.33,251.53 398.93,254.43 395.74,254.43" fill="none" stroke="#000" stroke-width="1.0"/>
<polygon points="393.74,252.27 395.34,255.17 392.15,255.17" fill="none" stroke="#000" stroke-width="1.0"/>
<polygon points="397.52,252.79 399.12,255.69 395.93,255.69" fill="none" stroke="#000" stroke-width="1.0"/>
<polygon points="393.56,252.92 395.15,255.82 391.96,255.82" fill="none" stroke="#000" stroke-width="1.0"/>
<polygon points="395.20,253.27 396.80,256.17 393.61,256.17" fill="none" stroke="#000" stroke-width="1.0"/>
<polygon points="397.59,253.49 399.18,256.39 395.99,256.39" fill="none" stroke="#000" stroke-width="1.0"/>
<polygon points="399.24,254.79 400.83,257.69 397.64,257.69" fill="none" stroke="#000" stroke-width="1.0"/>
<polygon points="395.66,255.66 397.25,258.56 394.06,258.56" fill="none" stroke="#000" stroke-width="1.0"/>
<polygon points="398.95,256.16 400.54,259.06 397.35,259.06" fill="none" stroke="#000" stroke-width="1.0"/>
<polygon points="393.50,256.26 395.10,259.16 391.91,259.16" fill="none" stroke="#000" stroke-width="1.0"/>
<polygon points="397.21,256.93 398.80,259.83 395.61,259.83" fill="none" stroke="#000" stroke-width="1.0"/>
<polygon points="395.40,266.63 397.00,269.53 393.80,269.53" fill="none" stroke="#000" stroke-width="1.0"/>
<polygon points="397.20,268.33 398.80,271.23 395.60,271.23" fill="none" stroke="#000" stroke-width="1.0"/>
<polygon points="396.40,275.63 398.00,278.53 394.80,278.53" fill="none" stroke="#000" stroke-width="1.0"/>
<polygon points="410.50,212.97 412.10,210.07 408.90,210.07" fill="none" stroke="#000" stroke-width="1.0"/>
<polygon points="411.55,217.20 413.14,214.30 409.95,214.30" fill="none" stroke="#000" stroke-width="1.0"/>
<polygon points="413.15,218.76 414.74,215.86 411.55,215.86" fill="none" stroke="#000" stroke-width="1.0"/>
<polygon points="409.89,219.41 411.49,216.51 408.30,216.51" fill="none" stroke="#000" stroke-width="1.0"/>
<polygon points="411.57,219.50 413.16,216.60 409.97,216.60" fill="none" stroke="#000" stroke-width="1.0"/>
<polygon points="407.93,219.53 409.52,216.63 406.33,216.63" fill="none" stroke="#000" stroke-width="1.0"/>
<polygon points="411.19,220.75 412.79,217.85 409.60,217.85" fill="none" stroke="#000" stroke-width="1.0"/>
<polygon points="407.82,221.73 409.42,218.83 406.23,218.83" fill="none" stroke="#000" stroke-width="1.0"/>
<polygon points="411.73,222.95 413.32,220.05 410.13,220.05" fill="none" stroke="#000" stroke-width="1.0"/>
<polygon points="413.18,223.64 414.78,220.74 411.59,220.74" fill="none" stroke="#000" stroke-width="1.0"/>
<polygon points="407.66,224.59 409.26,221.69 406.07,221.69" fill="none" stroke="#000" stroke-width="1.0"/>
<polygon points="409.79,225.52 411.39,222.62 408.20,222.62" fill="none" stroke="#000" stroke-width="1.0"/>
<polygon points="411.69,225.63 413.28,222.73 410.09,222.73" fill="none" stroke="#000" stroke-width="1.0"/>
<polygon points="407.46,226.87 409.06,223.97 405.87,223.97" fill="none" stroke="#000" stroke-width="1.0"/>
<polygon points="411.69,227.74 413.28,224.84 410.09,224.84" fill="none" stroke="#000" stroke-width="1.0"/>
<polygon points="413.07,228.21 414.66,225.31 411.47,225.31" fill="none" stroke="#000" stroke-width="1.0"/>
<polygon points="407.58,228.97 409.17,226.07 405.98,226.07" fill="none" stroke="#000" stroke-width="1.0"/>
<polygon points="409.66,229.86 411.26,226.96 408.07,226.96" fill="none" stroke="#000" stroke-width="1.0"/>
<polygon points="413.27,229.92 414.86,227.02 411.67,227.02" fill="none" stroke="#000" stroke-width="1.0"/>
<polygon points="407.76,230.00 409.35,227.10 406.16,227.10" fill="none" stroke="#000" stroke-width="1.0"/>
<polygon points="411.33,230.82 412.93,227.92 409.74,227.92" fill="none" stroke="#000" stroke-width="1.0"/>
<polygon points="407.89,231.08 409.48,228.18 406.29,228.18" fill="none" stroke="#000" stroke-width="1.0"/>
<polygon points="411.65,231.12 413.24,228.22 410.05,228.22" fill="none" stroke="#000" stroke-width="1.0"/>
<polygon points="408.07,231.27 409.67,228.37 406.48,228.37" fill="none" stroke="#000" stroke-width="1.0"/>
<polygon points="411.51,231.68 413.11,228.78 409.92,228.78" fill="none" stroke="#000" stroke-width="1.0"/>
<polygon points="413.19,232.70 414.78,229.80 411.59,229.80" fill="none" stroke="#000" stroke-width="1.0"/>
<polygon points="407.73,234.78 409.32,231.88 406.13,231.88" fill="none" stroke="#000" stroke-width="1.0"/>
<polygon points="409.91,235.60 411.51,232.70 408.32,232.70" fill="none" stroke="#000" stroke-width="1.0"/>
<polygon points="413.53,235.82 415.13,232.92 411.94,232.92" fill="none" stroke="#000" stroke-width="1.0"/>
<polygon points="409.80,236.41 411.40,233.51 408.21,233.51" fill="none" stroke="#000" stroke-width="1.0"/>
<polygon points="411.51,236.53 413.11,233.63 409.92,233.63" fill="none" stroke="#000" stroke-width="1.0"/>
<polygon points="413.47,236.66 415.07,233.76 411.88,233.76" fill="none" stroke="#000" stroke-width="1.0"/>
<polygon points="409.88,236.76 411.48,233.86 408.29,233.86" fill="none" stroke="#000" stroke-width="1.0"/>
<polygon points="413.41,237.36 415.00,234.46 411.81,234.46" fill="none" stroke="#000" stroke-width="1.0"/>
<polygon points="409.67,237.40 411.27,234.50 408.08,234.50" fill="none" stroke="#000" stroke-width="1.0"/>
<polygon points="411.34,237.53 412.94,234.63 409.75,234.63" fill="none" stroke="#000" stroke-width="1.0"/>
<polygon points="407.55,237.60 409.15,234.70 405.96,234.70" fill="none" stroke="#000" stroke-width="1.0"/>
<polygon points="409.70,240.02 411.29,237.12 408.10,237.12" fill="none" stroke="#000" stroke-width="1.0"/>
<polygon points="413.21,240.58 414.81,237.68 411.62,237.68" fill="none" stroke="#000" stroke-width="1.0"/>
<polygon points="407.56,240.66 409.15,237.76 405.96,237.76" fill="none" stroke="#000" stroke-width="1.0"/>
<polygon points="409.25,241.24 410.85,238.34 407.66,238.34" fill="none" stroke="#000" stroke-width="1.0"/>
<polygon points="411.63,241.45 413.22,238.55 410.03,238.55" fill="none" stroke="#000" stroke-width="1.0"/>
<polygon points="413.10,242.78 414.69,239.88 411.50,239.88" fill="none" stroke="#000" stroke-width="1.0"/>
<polygon points="408.07,242.82 409.67,239.92 406.48,239.92" fill="none" stroke="#000" stroke-width="1.0"/>
<polygon points="411.11,243.26 412.70,240.36 409.51,240.36" fill="none" stroke="#000" stroke-width="1.0"/>
<polygon points="407.46,243.86 409.06,240.96 405.87,240.96" fill="none" stroke="#000" stroke-width="1.0"/>
<polygon points="409.54,244.19 411.14,241.29 407.95,241.29" fill="none" stroke="#000" stroke-width="1.0"/>
<polygon points="411.60,244.68 413.19,241.78 410.00,241.78" fill="none" stroke="#000" stroke-width="1.0"/>
<polygon points="407.60,244.89 409.19,241.99 406.00,241.99" fill="none" stroke="#000" stroke-width="1.0"/>
<polygon points="411.42,244.92 413.01,242.02 409.82,242.02" fill="none" stroke="#000" stroke-width="1.0"/>
<polygon points="413.51,245.76 415.11,242.86 411.92,242.86" fill="none" stroke="#000" stroke-width="1.0"/>
<polygon points="409.47,246.10 411.07,243.20 407.88,243.20" fill="none" stroke="#000" stroke-width="1.0"/>
<polygon points="412.90,246.32 414.50,243.42 411.31,243.42" fill="none" stroke="#000" stroke-width="1.0"/>
<polygon points="409.95,246.37 411.54,243.47 408.35,243.47" fill="none" stroke="#000" stroke-width="1.0"/>
<polygon points="411.30,246.43 412.90,243.53 409.71,243.53" fill="none" stroke="#000" stroke-width="1.0"/>
<polygon points="412.92,247.19 414.52,244.29 411.33,244.29" fill="none" stroke="#000" stroke-width="1.0"/>
<polygon points="409.72,247.47 411.32,244.57 408.13,244.57" fill="none" stroke="#000" stroke-width="1.0"/>
<polygon points="411.51,247.56 413.10,244.66 409.91,244.66" fill="none" stroke="#000" stroke-width="1.0"/>
<polygon points="413.45,248.20 415.05,245.30 411.86,245.30" fill="none" stroke="#000" stroke-width="1.0"/>
<polygon points="409.42,249.23 411.01,246.33 407.82,246.33" fill="none" stroke="#000" stroke-width="1.0"/>
<polygon points="411.37,249.51 412.97,246.61 409.78,246.61" fill="none" stroke="#000" stroke-width="1.0"/>
<polygon points="413.45,249.74 415.04,246.84 411.85,246.84" fill="none" stroke="#000" stroke-width="1.0"/>
<polygon points="408.08,249.90 409.68,247.00 406.49,247.00" fill="none" stroke="#000" stroke-width="1.0"/>
<polygon points="409.45,250.44 411.05,247.54 407.86,247.54" fill="none" stroke="#000" stroke-width="1.0"/>
<polygon points="413.51,250.50 415.10,247.60 411.91,247.60" fill="none" stroke="#000" stroke-width="1.0"/>
<polygon points="409.92,250.63 411.51,247.73 408.32,247.73" fill="none" stroke="#000" stroke-width="1.0"/>
<polygon points="413.24,251.23 414.83,248.33 411.64,248.33" fill="none" stroke="#000" stroke-width="1.0"/>
<polygon points="407.63,251.43 409.22,248.53 406.03,248.53" fill="none" stroke="#000" stroke-width="1.0"/>
<polygon points="409.51,252.09 411.11,249.19 407.92,249.19" fill="none" stroke="#000" stroke-width="1.0"/>
<polygon points="411.28,252.41 412.88,249.51 409.69,249.51" fill="none" stroke="#000" stroke-width="1.0"/>
<polygon points="407.84,252.48 409.44,249.58 406.25,249.58" fill="none" stroke="#000" stroke-width="1.0"/>
<polygon points="411.49,255.29 413.08,252.39 409.89,252.39" fill="none" stroke="#000" stroke-width="1.0"/>
<polygon points="409.54,255.31 411.13,252.41 407.94,252.41" fill="none" stroke="#000" stroke-width="1.0"/>
<polygon points="411.42,255.63 413.02,252.73 409.83,252.73" fill="none" stroke="#000" stroke-width="1.0"/>
<polygon points="409.06,256.92 410.65,254.02 407.46,254.02" fill="none" stroke="#000" stroke-width="1.0"/>
<polygon points="411.65,259.59 413.25,256.69 410.06,256.69" fill="none" stroke="#000" stroke-width="1.0"/>
<polygon points="409.19,260.29 410.78,257.39 407.59,257.39" fill="none" stroke="#000" stroke-width="1.0"/>
<polygon points="408.30,263.67 409.90,260.77 406.70,260.77" fill="none" stroke="#000" stroke-width="1.0"/>
<polygon points="410.50,265.07 412.10,262.17 408.90,262.17" fill="none" stroke="#000" stroke-width="1.0"/>
<polygon points="412.70,263.47 414.30,260.57 411.10,260.57" fill="none" stroke="#000" stroke-width="1.0"/>
<polygon points="410.50,269.87 412.10,266.97 408.90,266.97" fill="none" stroke="#000" stroke-width="1.0"/>
<polygon points="421.52,223.35 422.96,224.79 421.52,226.23 420.08,224.79" fill="none" stroke="#000" stroke-width="1.0"/>
<polygon points="423.34,224.51 424.78,225.95 423.34,227.39 421.90,225.95" fill="none" stroke="#000" stroke-width="1.0"/>
<polygon points="424.59,224.80 426.03,226.24 424.59,227.68 423.15,226.24" fill="none" stroke="#000" stroke-width="1.0"/>
<polygon points="423.44,226.10 424.88,227.54 423.44,228.98 422.00,227.54" fill="none" stroke="#000" stroke-width="1.0"/>
<polygon points="421.45,226.40 422.89,227.84 421.45,229.28 420.01,227.84" fill="none" stroke="#000" stroke-width="1.0"/>
<polygon points="424.79,226.62 426.23,228.06 424.79,229.50 423.35,228.06" fill="none" stroke="#000" stroke-width="1.0"/>
<polygon points="421.72,226.63 423.16,228.07 421.72,229.51 420.28,228.07" fill="none" stroke="#000" stroke-width="1.0"/>
<polygon points="423.27,227.55 424.71,228.99 423.27,230.43 421.83,228.99" fill="none" stroke="#000" stroke-width="1.0"/>
<polygon points="425.13,227.90 426.57,229.34 425.13,230.78 423.69,229.34" fill="none" stroke="#000" stroke-width="1.0"/>
<polygon points="423.28,228.18 424.72,229.62 423.28,231.06 421.84,229.62" fill="none" stroke="#000" stroke-width="1.0"/>
<polygon points="422.01,228.40 423.45,229.84 422.01,231.28 420.57,229.84" fill="none" stroke="#000" stroke-width="1.0"/>
<polygon points="423.94,229.45 425.38,230.89 423.94,232.33 422.50,230.89" fill="none" stroke="#000" stroke-width="1.0"/>
<polygon points="425.11,229.61 426.55,231.05 425.11,232.49 423.67,231.05" fill="none" stroke="#000" stroke-width="1.0"/>
<polygon points="423.50,229.88 424.94,231.32 423.50,232.76 422.06,231.32" fill="none" stroke="#000" stroke-width="1.0"/>
<polygon points="422.35,230.23 423.79,231.67 422.35,233.11 420.91,231.67" fill="none" stroke="#000" stroke-width="1.0"/>
<polygon points="423.83,230.71 425.27,232.15 423.83,233.59 422.39,232.15" fill="none" stroke="#000" stroke-width="1.0"/>
<polygon points="425.68,234.18 427.12,235.62 425.68,237.06 424.24,235.62" fill="none" stroke="#000" stroke-width="1.0"/>
<polygon points="424.02,235.51 425.46,236.95 424.02,238.39 422.58,236.95" fill="none" stroke="#000" stroke-width="1.0"/>
<polygon points="425.81,236.49 427.25,237.93 425.81,239.37 424.37,237.93" fill="none" stroke="#000" stroke-width="1.0"/>
<polygon points="424.48,237.02 425.92,238.46 424.48,239.90 423.04,238.46" fill="none" stroke="#000" stroke-width="1.0"/>
<polygon points="425.79,237.30 427.23,238.74 425.79,240.18 424.35,238.74" fill="none" stroke="#000" stroke-width="1.0"/>
<polygon points="424.46,237.89 425.90,239.33 424.46,240.77 423.02,239.33" fill="none" stroke="#000" stroke-width="1.0"/>
<polygon points="426.16,238.43 427.60,239.87 426.16,241.31 424.72,239.87" fill="none" stroke="#000" stroke-width="1.0"/>
<polygon points="423.11,239.64 424.55,241.08 423.11,242.52 421.67,241.08" fill="none" stroke="#000" stroke-width="1.0"/>
<polygon points="424.55,239.68 425.99,241.12 424.55,242.56 423.11,241.12" fill="none" stroke="#000" stroke-width="1.0"/>
<polygon points="426.13,240.00 427.57,241.44 426.13,242.88 424.69,241.44" fill="none" stroke="#000" stroke-width="1.0"/>
<polygon points="424.60,242.18 426.04,243.62 424.60,245.06 423.16,243.62" fill="none" stroke="#000" stroke-width="1.0"/>
<polygon points="426.72,242.68 428.16,244.12 426.72,245.56 425.28,244.12" fill="none" stroke="#000" stroke-width="1.0"/>
<polygon points="423.32,242.89 424.76,244.33 423.32,245.77 421.88,244.33" fill="none" stroke="#000" stroke-width="1.0"/>
<polygon points="426.70,243.32 428.14,244.76 426.70,246.20 425.26,244.76" fill="none" stroke="#000" stroke-width="1.0"/>
<polygon points="425.12,245.30 426.56,246.74 425.12,248.18 423.68,246.74" fill="none" stroke="#000" stroke-width="1.0"/>
<polygon points="423.91,246.40 425.35,247.84 423.91,249.28 422.47,247.84" fill="none" stroke="#000" stroke-width="1.0"/>
<polygon points="427.52,249.54 428.96,250.98 427.52,252.42 426.08,250.98" fill="none" stroke="#000" stroke-width="1.0"/>
<polygon points="425.90,249.72 427.34,251.16 425.90,252.60 424.46,251.16" fill="none" stroke="#000" stroke-width="1.0"/>
<polygon points="424.31,249.93 425.75,251.37 424.31,252.81 422.87,251.37" fill="none" stroke="#000" stroke-width="1.0"/>
<polygon points="425.74,250.01 427.18,251.45 425.74,252.89 424.30,251.45" fill="none" stroke="#000" stroke-width="1.0"/>
<polygon points="424.27,251.60 425.71,253.04 424.27,254.48 422.83,253.04" fill="none" stroke="#000" stroke-width="1.0"/>
<polygon points="427.44,252.01 428.88,253.45 427.44,254.89 426.00,253.45" fill="none" stroke="#000" stroke-width="1.0"/>
<circle cx="439.00" cy="207.90" r="0.90" fill="#000" stroke="#000" stroke-width="0"/>
<path d="M437.65,207.90H440.35M439.00,206.55V209.25" stroke="#000" stroke-width="0.63" fill="none"/>
<circle cx="439.00" cy="240.20" r="0.90" fill="#000" stroke="#000" stroke-width="0"/>
<path d="M437.65,240.20H440.35M439.00,238.85V241.55" stroke="#000" stroke-width="0.63" fill="none"/>
<circle cx="437.50" cy="219.40" r="0.90" fill="#000" stroke="#000" stroke-width="0"/>
<path d="M436.15,219.40H438.85M437.50,218.05V220.75" stroke="#000" stroke-width="0.63" fill="none"/>
<circle cx="440.60" cy="223.20" r="0.90" fill="#000" stroke="#000" stroke-width="0"/>
<path d="M439.25,223.20H441.95M440.60,221.85V224.55" stroke="#000" stroke-width="0.63" fill="none"/>
<circle cx="439.00" cy="220.50" r="0.90" fill="#000" stroke="#000" stroke-width="0"/>
<path d="M437.65,220.50H440.35M439.00,219.15V221.85" stroke="#000" stroke-width="0.63" fill="none"/>
<line x1="434.40" y1="221.30" x2="443.60" y2="221.30" stroke="#000" stroke-width="1.1" />
<line x1="439.00" y1="218.10" x2="439.00" y2="225.60" stroke="#000" stroke-width="1.1" />
<line x1="436.60" y1="218.10" x2="441.40" y2="218.10" stroke="#000" stroke-width="1.1" />
<line x1="436.60" y1="225.60" x2="441.40" y2="225.60" stroke="#000" stroke-width="1.1" />
<circle cx="452.60" cy="268.80" r="1.25" fill="#000" stroke="#000" stroke-width="0"/>
<circle cx="452.60" cy="278.00" r="1.25" fill="#000" stroke="#000" stroke-width="0"/>
<line x1="447.90" y1="273.00" x2="457.30" y2="273.00" stroke="#000" stroke-width="1.1" />
<line x1="452.60" y1="268.80" x2="452.60" y2="278.00" stroke="#000" stroke-width="1.1" />
<line x1="450.30" y1="268.80" x2="454.90" y2="268.80" stroke="#000" stroke-width="1.1" />
<line x1="450.30" y1="278.00" x2="454.90" y2="278.00" stroke="#000" stroke-width="1.1" />
<circle cx="466.70" cy="275.80" r="1.25" fill="#000" stroke="#000" stroke-width="0"/>
<circle cx="466.70" cy="296.80" r="1.25" fill="#000" stroke="#000" stroke-width="0"/>
<line x1="462.00" y1="285.50" x2="471.40" y2="285.50" stroke="#000" stroke-width="1.1" />
<line x1="466.70" y1="275.80" x2="466.70" y2="296.80" stroke="#000" stroke-width="1.1" />
<line x1="464.40" y1="275.80" x2="469.00" y2="275.80" stroke="#000" stroke-width="1.1" />
<line x1="464.40" y1="296.80" x2="469.00" y2="296.80" stroke="#000" stroke-width="1.1" />
<circle cx="481.24" cy="216.80" r="0.85" fill="#000" stroke="#000" stroke-width="0"/>
<path d="M479.96,216.80H482.51M481.24,215.52V218.07" stroke="#000" stroke-width="0.59" fill="none"/>
<circle cx="482.73" cy="217.58" r="0.85" fill="#000" stroke="#000" stroke-width="0"/>
<path d="M481.46,217.58H484.01M482.73,216.30V218.85" stroke="#000" stroke-width="0.59" fill="none"/>
<circle cx="478.21" cy="217.77" r="0.85" fill="#000" stroke="#000" stroke-width="0"/>
<path d="M476.93,217.77H479.48M478.21,216.49V219.04" stroke="#000" stroke-width="0.59" fill="none"/>
<circle cx="479.85" cy="218.37" r="0.85" fill="#000" stroke="#000" stroke-width="0"/>
<path d="M478.57,218.37H481.12M479.85,217.09V219.64" stroke="#000" stroke-width="0.59" fill="none"/>
<circle cx="482.96" cy="219.11" r="0.85" fill="#000" stroke="#000" stroke-width="0"/>
<path d="M481.68,219.11H484.23M482.96,217.83V220.38" stroke="#000" stroke-width="0.59" fill="none"/>
<circle cx="477.94" cy="219.16" r="0.85" fill="#000" stroke="#000" stroke-width="0"/>
<path d="M476.67,219.16H479.22M477.94,217.88V220.43" stroke="#000" stroke-width="0.59" fill="none"/>
<circle cx="479.31" cy="219.53" r="0.85" fill="#000" stroke="#000" stroke-width="0"/>
<path d="M478.03,219.53H480.58M479.31,218.25V220.80" stroke="#000" stroke-width="0.59" fill="none"/>
<circle cx="482.75" cy="219.63" r="0.85" fill="#000" stroke="#000" stroke-width="0"/>
<path d="M481.47,219.63H484.02M482.75,218.36V220.91" stroke="#000" stroke-width="0.59" fill="none"/>
<circle cx="484.02" cy="221.12" r="0.85" fill="#000" stroke="#000" stroke-width="0"/>
<path d="M482.74,221.12H485.29M484.02,219.85V222.40" stroke="#000" stroke-width="0.59" fill="none"/>
<circle cx="477.64" cy="221.17" r="0.85" fill="#000" stroke="#000" stroke-width="0"/>
<path d="M476.36,221.17H478.91M477.64,219.89V222.44" stroke="#000" stroke-width="0.59" fill="none"/>
<circle cx="480.75" cy="221.42" r="0.85" fill="#000" stroke="#000" stroke-width="0"/>
<path d="M479.48,221.42H482.03M480.75,220.15V222.70" stroke="#000" stroke-width="0.59" fill="none"/>
<circle cx="482.86" cy="221.54" r="0.85" fill="#000" stroke="#000" stroke-width="0"/>
<path d="M481.58,221.54H484.13M482.86,220.27V222.82" stroke="#000" stroke-width="0.59" fill="none"/>
<circle cx="484.18" cy="222.08" r="0.85" fill="#000" stroke="#000" stroke-width="0"/>
<path d="M482.90,222.08H485.45M484.18,220.81V223.36" stroke="#000" stroke-width="0.59" fill="none"/>
<circle cx="477.86" cy="222.45" r="0.85" fill="#000" stroke="#000" stroke-width="0"/>
<path d="M476.58,222.45H479.13M477.86,221.17V223.72" stroke="#000" stroke-width="0.59" fill="none"/>
<circle cx="479.25" cy="206.80" r="0.80" fill="#000" stroke="#000" stroke-width="0"/>
<path d="M478.05,206.80H480.45M479.25,205.60V208.00" stroke="#000" stroke-width="0.56" fill="none"/>
<circle cx="480.78" cy="209.50" r="0.80" fill="#000" stroke="#000" stroke-width="0"/>
<path d="M479.58,209.50H481.98M480.78,208.30V210.70" stroke="#000" stroke-width="0.56" fill="none"/>
<circle cx="482.67" cy="211.50" r="0.80" fill="#000" stroke="#000" stroke-width="0"/>
<path d="M481.47,211.50H483.87M482.67,210.30V212.70" stroke="#000" stroke-width="0.56" fill="none"/>
<circle cx="480.97" cy="212.30" r="0.80" fill="#000" stroke="#000" stroke-width="0"/>
<path d="M479.77,212.30H482.17M480.97,211.10V213.50" stroke="#000" stroke-width="0.56" fill="none"/>
<circle cx="479.25" cy="213.00" r="0.80" fill="#000" stroke="#000" stroke-width="0"/>
<path d="M478.05,213.00H480.45M479.25,211.80V214.20" stroke="#000" stroke-width="0.56" fill="none"/>
<circle cx="482.97" cy="214.20" r="0.80" fill="#000" stroke="#000" stroke-width="0"/>
<path d="M481.77,214.20H484.17M482.97,213.00V215.40" stroke="#000" stroke-width="0.56" fill="none"/>
<circle cx="479.36" cy="223.30" r="0.80" fill="#000" stroke="#000" stroke-width="0"/>
<path d="M478.16,223.30H480.56M479.36,222.10V224.50" stroke="#000" stroke-width="0.56" fill="none"/>
<circle cx="480.89" cy="224.00" r="0.80" fill="#000" stroke="#000" stroke-width="0"/>
<path d="M479.69,224.00H482.09M480.89,222.80V225.20" stroke="#000" stroke-width="0.56" fill="none"/>
<circle cx="479.78" cy="225.30" r="0.80" fill="#000" stroke="#000" stroke-width="0"/>
<path d="M478.58,225.30H480.98M479.78,224.10V226.50" stroke="#000" stroke-width="0.56" fill="none"/>
<circle cx="480.87" cy="226.50" r="0.80" fill="#000" stroke="#000" stroke-width="0"/>
<path d="M479.67,226.50H482.07M480.87,225.30V227.70" stroke="#000" stroke-width="0.56" fill="none"/>
<circle cx="482.72" cy="228.30" r="0.80" fill="#000" stroke="#000" stroke-width="0"/>
<path d="M481.52,228.30H483.92M482.72,227.10V229.50" stroke="#000" stroke-width="0.56" fill="none"/>
<line x1="477.40" y1="219.00" x2="485.60" y2="219.00" stroke="#000" stroke-width="1.1" />
<circle cx="495.10" cy="235.80" r="1.30" fill="#000" stroke="#000" stroke-width="0"/>
<circle cx="495.30" cy="256.40" r="1.30" fill="#000" stroke="#000" stroke-width="0"/>
<circle cx="493.30" cy="260.30" r="1.30" fill="#000" stroke="#000" stroke-width="0"/>
<circle cx="496.60" cy="261.80" r="1.30" fill="#000" stroke="#000" stroke-width="0"/>
<circle cx="494.60" cy="263.50" r="1.30" fill="#000" stroke="#000" stroke-width="0"/>
<circle cx="497.70" cy="265.00" r="1.30" fill="#000" stroke="#000" stroke-width="0"/>
<circle cx="492.50" cy="266.50" r="1.30" fill="#000" stroke="#000" stroke-width="0"/>
<circle cx="495.70" cy="268.30" r="1.30" fill="#000" stroke="#000" stroke-width="0"/>
<circle cx="493.50" cy="270.50" r="1.30" fill="#000" stroke="#000" stroke-width="0"/>
<circle cx="496.90" cy="271.30" r="1.30" fill="#000" stroke="#000" stroke-width="0"/>
<circle cx="497.00" cy="280.70" r="1.30" fill="#000" stroke="#000" stroke-width="0"/>
<circle cx="495.10" cy="284.40" r="1.30" fill="#000" stroke="#000" stroke-width="0"/>
<line x1="490.30" y1="265.50" x2="499.70" y2="265.50" stroke="#000" stroke-width="1.1" />
<line x1="495.00" y1="262.20" x2="495.00" y2="268.80" stroke="#000" stroke-width="1.1" />
<line x1="492.70" y1="262.20" x2="497.30" y2="262.20" stroke="#000" stroke-width="1.1" />
<line x1="492.70" y1="268.80" x2="497.30" y2="268.80" stroke="#000" stroke-width="1.1" />
<circle cx="506.70" cy="269.90" r="0.95" fill="#000" stroke="#000" stroke-width="0"/>
<path d="M505.27,269.90H508.12M506.70,268.48V271.33" stroke="#000" stroke-width="0.66" fill="none"/>
<circle cx="508.40" cy="269.00" r="0.95" fill="#000" stroke="#000" stroke-width="0"/>
<path d="M506.97,269.00H509.82M508.40,267.57V270.43" stroke="#000" stroke-width="0.66" fill="none"/>
<circle cx="510.00" cy="270.00" r="0.95" fill="#000" stroke="#000" stroke-width="0"/>
<path d="M508.57,270.00H511.43M510.00,268.57V271.43" stroke="#000" stroke-width="0.66" fill="none"/>
<circle cx="511.70" cy="269.60" r="0.95" fill="#000" stroke="#000" stroke-width="0"/>
<path d="M510.27,269.60H513.12M511.70,268.18V271.03" stroke="#000" stroke-width="0.66" fill="none"/>
<circle cx="509.20" cy="267.30" r="0.95" fill="#000" stroke="#000" stroke-width="0"/>
<path d="M507.77,267.30H510.62M509.20,265.88V268.73" stroke="#000" stroke-width="0.66" fill="none"/>
<circle cx="509.20" cy="271.10" r="0.95" fill="#000" stroke="#000" stroke-width="0"/>
<path d="M507.77,271.10H510.62M509.20,269.68V272.53" stroke="#000" stroke-width="0.66" fill="none"/>
<line x1="504.80" y1="269.80" x2="513.60" y2="269.80" stroke="#000" stroke-width="1.2" />
<path d="M24.40,451.70 L24.40,451.26 L24.90,450.97 L25.40,450.99 L25.90,451.17 L26.40,451.06 L26.90,451.06 L27.40,450.96 L27.90,450.88 L28.40,451.12 L28.90,451.12 L29.40,450.79 L29.90,450.92 L30.40,450.77 L30.90,451.04 L31.40,450.84 L31.90,450.71 L32.40,450.89 L32.90,450.59 L33.40,450.59 L33.90,450.92 L34.40,450.84 L34.90,450.50 L35.40,450.17 L35.90,450.19 L36.40,450.05 L36.90,449.77 L37.40,449.73 L37.90,449.49 L38.40,449.27 L38.90,448.90 L39.40,448.06 L39.90,446.67 L40.40,445.32 L40.90,444.13 L41.40,442.41 L41.90,439.51 L42.40,434.82 L42.90,432.60 L43.40,428.12 L43.90,422.17 L44.40,412.85 L44.90,408.76 L45.40,404.87 L45.90,396.41 L46.40,389.62 L46.90,386.18 L47.40,379.90 L47.90,378.84 L48.40,374.40 L48.90,375.17 L49.40,381.59 L49.90,382.71 L50.40,383.03 L50.90,386.90 L51.40,392.39 L51.90,393.95 L52.40,399.90 L52.90,402.11 L53.40,402.02 L53.90,405.79 L54.40,409.83 L54.90,411.24 L55.40,412.77 L55.90,416.85 L56.40,423.08 L56.90,428.12 L57.40,431.86 L57.90,433.11 L58.40,435.89 L58.90,438.74 L59.40,441.12 L59.90,443.37 L60.40,444.05 L60.90,444.45 L61.40,445.39 L61.90,446.75 L62.40,447.83 L62.90,448.61 L63.40,448.62 L63.90,448.83 L64.40,449.37 L64.90,449.94 L65.40,450.24 L65.90,450.79 L66.40,450.73 L66.90,450.57 L67.40,450.72 L67.90,450.77 L68.40,450.85 L68.90,450.75 L69.40,450.60 L69.90,450.97 L70.40,450.68 L70.90,450.67 L71.40,450.65 L71.90,450.72 L72.40,450.70 L72.90,450.82 L73.40,450.81 L73.90,450.87 L74.40,451.03 L74.90,450.72 L75.40,450.85 L75.90,451.00 L76.40,450.89 L76.90,450.91 L77.40,450.97 L77.90,450.98 L78.40,450.92 L78.90,450.90 L79.40,450.91 L79.90,450.98 L80.40,451.16 L80.90,451.09 L81.40,451.13 L81.90,450.98 L82.40,450.88 L82.90,450.92 L83.40,450.93 L83.90,450.94 L84.40,451.17 L84.90,450.95 L85.40,451.03 L85.90,451.27 L86.40,451.30 L86.90,451.32 L87.40,451.04 L87.90,451.25 L88.40,451.32 L88.90,451.13 L89.40,451.25 L89.90,451.37 L90.40,451.34 L90.90,451.21 L91.40,451.36 L91.90,451.33 L92.40,451.18 L92.90,451.29 L93.40,451.35 L93.90,451.30 L94.40,451.49 L94.90,451.36 L95.40,451.35 L95.90,451.45 L96.40,451.49 L96.90,451.20 L97.40,451.36 L97.90,451.48 L98.40,451.34 L98.90,451.27 L99.40,451.59 L99.90,451.60 L100.40,451.55 L100.90,451.34 L101.40,451.57 L101.90,451.36 L102.40,451.38 L102.90,451.44 L103.40,451.57 L103.90,451.29 L104.40,451.36 L104.90,451.48 L105.40,451.60 L105.90,451.44 L106.40,451.54 L106.40,451.70 Z" fill="#9c9c9c" stroke="#6a6a6a" stroke-width="0.6" stroke-linejoin="round"/>
<path d="M24.40,450.77 L24.90,450.75 L25.40,450.86 L25.90,450.93 L26.40,451.01 L26.90,450.72 L27.40,450.77 L27.90,450.63 L28.40,450.75 L28.90,450.56 L29.40,450.72 L29.90,450.49 L30.40,450.48 L30.90,450.58 L31.40,450.50 L31.90,450.41 L32.40,450.57 L32.90,450.41 L33.40,450.29 L33.90,450.47 L34.40,450.25 L34.90,450.28 L35.40,450.15 L35.90,450.23 L36.40,450.18 L36.90,449.75 L37.40,449.58 L37.90,449.56 L38.40,449.55 L38.90,449.39 L39.40,449.14 L39.90,448.75 L40.40,447.99 L40.90,447.20 L41.40,446.43 L41.90,445.32 L42.40,444.70 L42.90,443.79 L43.40,442.58 L43.90,440.83 L44.40,438.27 L44.90,435.72 L45.40,433.40 L45.90,431.64 L46.40,429.56 L46.90,423.60 L47.40,417.45 L47.90,414.17 L48.40,410.10 L48.90,406.97 L49.40,398.14 L49.90,394.21 L50.40,392.26 L50.90,387.15 L51.40,385.46 L51.90,382.41 L52.40,377.94 L52.90,378.84 L53.40,377.00 L53.90,374.40 L54.40,374.40 L54.90,379.15 L55.40,375.40 L55.90,382.49 L56.40,384.20 L56.90,384.77 L57.40,388.92 L57.90,393.08 L58.40,396.95 L58.90,401.90 L59.40,407.85 L59.90,409.11 L60.40,414.91 L60.90,417.66 L61.40,422.14 L61.90,428.17 L62.40,431.11 L62.90,433.98 L63.40,435.32 L63.90,438.18 L64.40,440.97 L64.90,442.68 L65.40,443.53 L65.90,443.81 L66.40,444.50 L66.90,445.36 L67.40,446.10 L67.90,446.69 L68.40,447.38 L68.90,447.90 L69.40,447.82 L69.90,448.07 L70.40,448.13 L70.90,448.19 L71.40,448.50 L71.90,448.70 L72.40,448.69 L72.90,448.66 L73.40,448.90 L73.90,449.07 L74.40,449.11 L74.90,449.01 L75.40,449.32 L75.90,449.32 L76.40,449.22 L76.90,449.41 L77.40,449.63 L77.90,449.65 L78.40,449.76 L78.90,449.99 L79.40,450.00 L79.90,450.12 L80.40,450.02 L80.90,450.29 L81.40,450.22 L81.90,450.16 L82.40,450.19 L82.90,450.41 L83.40,450.33 L83.90,450.45 L84.40,450.43 L84.90,450.41 L85.40,450.31 L85.90,450.26 L86.40,450.53 L86.90,450.65 L87.40,450.50 L87.90,450.66 L88.40,450.69 L88.90,450.42 L89.40,450.69 L89.90,450.48 L90.40,450.63 L90.90,450.43 L91.40,450.48 L91.90,450.80 L92.40,450.77 L92.90,450.50 L93.40,450.65 L93.90,450.74 L94.40,450.62 L94.90,450.63 L95.40,450.77 L95.90,450.80 L96.40,450.96 L96.90,450.88 L97.40,450.98 L97.90,450.81 L98.40,450.84 L98.90,451.04 L99.40,450.87 L99.90,451.09 L100.40,451.10 L100.90,450.91 L101.40,451.00 L101.90,450.85 L102.40,450.96 L102.90,450.95 L103.40,451.19 L103.90,450.93 L104.40,451.23 L104.90,451.03 L105.40,450.93 L105.90,450.94 L106.40,450.96" fill="none" stroke="#000" stroke-width="0.9" stroke-linejoin="round"/>
<rect x="24.40" y="369.90" width="82.00" height="81.80" fill="none" stroke="#8a8a8a" stroke-width="0.8"/>
<path d="M24.40,369.90V451.70H106.40" fill="none" stroke="#555" stroke-width="0.8"/>
<line x1="22.60" y1="451.70" x2="24.40" y2="451.70" stroke="#333" stroke-width="0.7" />
<text x="21.00" y="453.00" font-size="3.6" text-anchor="end" font-weight="bold" fill="#222">0</text>
<line x1="22.60" y1="436.24" x2="24.40" y2="436.24" stroke="#333" stroke-width="0.7" />
<text x="21.00" y="437.54" font-size="3.6" text-anchor="end" font-weight="bold" fill="#222">20</text>
<line x1="22.60" y1="420.78" x2="24.40" y2="420.78" stroke="#333" stroke-width="0.7" />
<text x="21.00" y="422.08" font-size="3.6" text-anchor="end" font-weight="bold" fill="#222">40</text>
<line x1="22.60" y1="405.32" x2="24.40" y2="405.32" stroke="#333" stroke-width="0.7" />
<text x="21.00" y="406.62" font-size="3.6" text-anchor="end" font-weight="bold" fill="#222">60</text>
<line x1="22.60" y1="389.86" x2="24.40" y2="389.86" stroke="#333" stroke-width="0.7" />
<text x="21.00" y="391.16" font-size="3.6" text-anchor="end" font-weight="bold" fill="#222">80</text>
<line x1="22.60" y1="374.40" x2="24.40" y2="374.40" stroke="#333" stroke-width="0.7" />
<text x="21.00" y="375.70" font-size="3.6" text-anchor="end" font-weight="bold" fill="#222">100</text>
<line x1="24.40" y1="451.70" x2="24.40" y2="453.50" stroke="#333" stroke-width="0.7" />
<text x="24.50" y="458.90" font-size="3.8" text-anchor="middle" font-weight="bold" fill="#222">10<tspan dy="-1.5" font-size="2.6">0</tspan></text>
<line x1="44.90" y1="451.70" x2="44.90" y2="453.50" stroke="#333" stroke-width="0.7" />
<text x="45.00" y="458.90" font-size="3.8" text-anchor="middle" font-weight="bold" fill="#222">10<tspan dy="-1.5" font-size="2.6">1</tspan></text>
<line x1="65.40" y1="451.70" x2="65.40" y2="453.50" stroke="#333" stroke-width="0.7" />
<text x="65.50" y="458.90" font-size="3.8" text-anchor="middle" font-weight="bold" fill="#222">10<tspan dy="-1.5" font-size="2.6">2</tspan></text>
<line x1="85.90" y1="451.70" x2="85.90" y2="453.50" stroke="#333" stroke-width="0.7" />
<text x="86.00" y="458.90" font-size="3.8" text-anchor="middle" font-weight="bold" fill="#222">10<tspan dy="-1.5" font-size="2.6">3</tspan></text>
<line x1="106.40" y1="451.70" x2="106.40" y2="453.50" stroke="#333" stroke-width="0.7" />
<text x="106.50" y="458.90" font-size="3.8" text-anchor="middle" font-weight="bold" fill="#222">10<tspan dy="-1.5" font-size="2.6">4</tspan></text>
<text x="65.00" y="463.20" font-size="3.6" text-anchor="middle" font-weight="bold" fill="#222">FL2-H: FL2-Height</text>
<text x="14.00" y="410.80" font-size="3.5" text-anchor="middle" font-weight="bold" transform="rotate(-90 14.00 410.80)" fill="#222">% of Max</text>
<text x="103.30" y="377.90" font-size="6.4" text-anchor="end" font-weight="bold" textLength="20.41" lengthAdjust="spacingAndGlyphs" stroke="#000" stroke-width="0.4">MALT</text>
<path d="M156.30,451.70 L156.30,437.15 L156.80,444.06 L157.30,449.31 L157.80,448.94 L158.30,448.38 L158.80,447.84 L159.30,447.25 L159.80,446.83 L160.30,446.14 L160.80,445.70 L161.30,445.38 L161.80,445.07 L162.30,444.09 L162.80,443.19 L163.30,441.86 L163.80,440.49 L164.30,439.49 L164.80,439.04 L165.30,438.41 L165.80,438.11 L166.30,437.24 L166.80,435.56 L167.30,432.71 L167.80,430.76 L168.30,428.42 L168.80,425.13 L169.30,424.47 L169.80,422.86 L170.30,420.65 L170.80,417.44 L171.30,412.43 L171.80,410.35 L172.30,405.91 L172.80,398.84 L173.30,395.18 L173.80,393.46 L174.30,386.13 L174.80,382.75 L175.30,378.04 L175.80,374.40 L176.30,374.40 L176.80,377.69 L177.30,384.81 L177.80,382.81 L178.30,382.74 L178.80,387.77 L179.30,383.62 L179.80,384.99 L180.30,391.15 L180.80,396.46 L181.30,402.27 L181.80,404.41 L182.30,408.27 L182.80,409.50 L183.30,414.50 L183.80,415.81 L184.30,418.71 L184.80,422.16 L185.30,423.08 L185.80,423.88 L186.30,426.53 L186.80,429.28 L187.30,431.79 L187.80,433.07 L188.30,433.38 L188.80,435.75 L189.30,436.42 L189.80,439.23 L190.30,440.25 L190.80,442.24 L191.30,442.34 L191.80,443.35 L192.30,444.48 L192.80,445.56 L193.30,446.60 L193.80,447.69 L194.30,448.50 L194.80,449.20 L195.30,449.35 L195.80,449.50 L196.30,449.99 L196.80,450.59 L197.30,450.65 L197.80,450.96 L198.30,450.96 L198.80,451.24 L199.30,451.03 L199.80,451.30 L200.30,451.07 L200.80,451.22 L201.30,451.25 L201.80,451.00 L202.30,451.30 L202.80,451.14 L203.30,451.02 L203.80,451.26 L204.30,451.27 L204.80,451.02 L205.30,451.20 L205.80,451.09 L206.30,451.36 L206.80,451.24 L207.30,451.32 L207.80,451.13 L208.30,451.36 L208.80,451.03 L209.30,451.39 L209.80,451.13 L210.30,451.41 L210.80,451.32 L211.30,451.11 L211.80,451.37 L212.30,451.36 L212.80,451.17 L213.30,451.30 L213.80,451.44 L214.30,451.08 L214.80,451.40 L215.30,451.46 L215.80,451.34 L216.30,451.24 L216.80,451.20 L217.30,451.45 L217.80,451.37 L218.30,451.49 L218.80,451.34 L219.30,451.22 L219.80,451.24 L220.30,451.18 L220.80,451.24 L221.30,451.21 L221.80,451.27 L222.30,451.37 L222.80,451.47 L223.30,451.31 L223.80,451.45 L224.30,451.53 L224.80,451.41 L225.30,451.25 L225.80,451.54 L226.30,451.37 L226.80,451.45 L227.30,451.41 L227.80,451.56 L228.30,451.25 L228.80,451.52 L229.30,451.39 L229.80,451.47 L230.30,451.63 L230.80,451.43 L231.30,451.59 L231.80,451.63 L232.30,451.64 L232.80,451.60 L233.30,451.63 L233.80,451.42 L234.30,451.47 L234.80,451.29 L235.30,451.32 L235.80,451.30 L236.30,451.60 L236.80,451.52 L237.30,451.59 L237.80,451.47 L238.30,451.46 L238.30,451.70 Z" fill="#9c9c9c" stroke="#6a6a6a" stroke-width="0.6" stroke-linejoin="round"/>
<path d="M156.30,444.13 L156.80,448.09 L157.30,450.67 L157.80,450.82 L158.30,450.54 L158.80,450.50 L159.30,450.49 L159.80,450.20 L160.30,450.28 L160.80,450.04 L161.30,450.09 L161.80,449.85 L162.30,449.40 L162.80,448.87 L163.30,448.73 L163.80,448.47 L164.30,447.89 L164.80,447.36 L165.30,447.24 L165.80,447.12 L166.30,446.36 L166.80,446.36 L167.30,445.07 L167.80,444.77 L168.30,444.18 L168.80,443.57 L169.30,442.86 L169.80,441.78 L170.30,441.56 L170.80,439.75 L171.30,438.17 L171.80,437.10 L172.30,435.34 L172.80,435.11 L173.30,434.25 L173.80,432.92 L174.30,430.15 L174.80,428.81 L175.30,426.98 L175.80,423.92 L176.30,422.32 L176.80,421.19 L177.30,418.09 L177.80,416.93 L178.30,416.68 L178.80,412.70 L179.30,410.41 L179.80,406.40 L180.30,405.63 L180.80,406.18 L181.30,399.41 L181.80,401.49 L182.30,396.40 L182.80,391.19 L183.30,393.46 L183.80,389.24 L184.30,390.01 L184.80,381.89 L185.30,378.25 L185.80,378.29 L186.30,374.67 L186.80,378.64 L187.30,374.40 L187.80,374.40 L188.30,374.40 L188.80,376.97 L189.30,374.88 L189.80,377.61 L190.30,384.66 L190.80,387.90 L191.30,398.83 L191.80,400.93 L192.30,404.97 L192.80,408.22 L193.30,415.25 L193.80,422.61 L194.30,425.08 L194.80,427.46 L195.30,433.15 L195.80,436.08 L196.30,439.46 L196.80,440.93 L197.30,442.93 L197.80,444.50 L198.30,446.97 L198.80,447.99 L199.30,448.22 L199.80,448.44 L200.30,449.01 L200.80,449.32 L201.30,449.67 L201.80,449.81 L202.30,449.85 L202.80,449.85 L203.30,450.09 L203.80,450.06 L204.30,450.10 L204.80,449.92 L205.30,449.92 L205.80,450.26 L206.30,450.27 L206.80,450.28 L207.30,450.31 L207.80,450.24 L208.30,450.23 L208.80,450.39 L209.30,450.51 L209.80,450.38 L210.30,450.43 L210.80,450.38 L211.30,450.26 L211.80,450.38 L212.30,450.48 L212.80,450.46 L213.30,450.46 L213.80,450.72 L214.30,450.41 L214.80,450.47 L215.30,450.44 L215.80,450.47 L216.30,450.63 L216.80,450.63 L217.30,450.75 L217.80,450.55 L218.30,450.78 L218.80,450.78 L219.30,450.73 L219.80,450.76 L220.30,450.69 L220.80,450.81 L221.30,450.84 L221.80,450.79 L222.30,450.81 L222.80,450.72 L223.30,450.86 L223.80,450.54 L224.30,450.65 L224.80,450.83 L225.30,450.80 L225.80,450.77 L226.30,450.77 L226.80,450.88 L227.30,450.60 L227.80,450.56 L228.30,450.77 L228.80,450.77 L229.30,450.93 L229.80,450.93 L230.30,450.85 L230.80,450.88 L231.30,450.67 L231.80,450.94 L232.30,451.00 L232.80,450.65 L233.30,450.82 L233.80,450.97 L234.30,450.83 L234.80,451.03 L235.30,450.84 L235.80,450.68 L236.30,450.73 L236.80,450.79 L237.30,450.97 L237.80,450.93 L238.30,451.01" fill="none" stroke="#000" stroke-width="1.15" stroke-linejoin="round"/>
<rect x="156.30" y="369.90" width="82.00" height="81.80" fill="none" stroke="#8a8a8a" stroke-width="0.8"/>
<path d="M156.30,369.90V451.70H238.30" fill="none" stroke="#555" stroke-width="0.8"/>
<line x1="154.50" y1="451.70" x2="156.30" y2="451.70" stroke="#333" stroke-width="0.7" />
<text x="152.90" y="453.00" font-size="3.6" text-anchor="end" font-weight="bold" fill="#222">0</text>
<line x1="154.50" y1="436.24" x2="156.30" y2="436.24" stroke="#333" stroke-width="0.7" />
<text x="152.90" y="437.54" font-size="3.6" text-anchor="end" font-weight="bold" fill="#222">20</text>
<line x1="154.50" y1="420.78" x2="156.30" y2="420.78" stroke="#333" stroke-width="0.7" />
<text x="152.90" y="422.08" font-size="3.6" text-anchor="end" font-weight="bold" fill="#222">40</text>
<line x1="154.50" y1="405.32" x2="156.30" y2="405.32" stroke="#333" stroke-width="0.7" />
<text x="152.90" y="406.62" font-size="3.6" text-anchor="end" font-weight="bold" fill="#222">60</text>
<line x1="154.50" y1="389.86" x2="156.30" y2="389.86" stroke="#333" stroke-width="0.7" />
<text x="152.90" y="391.16" font-size="3.6" text-anchor="end" font-weight="bold" fill="#222">80</text>
<line x1="154.50" y1="374.40" x2="156.30" y2="374.40" stroke="#333" stroke-width="0.7" />
<text x="152.90" y="375.70" font-size="3.6" text-anchor="end" font-weight="bold" fill="#222">100</text>
<line x1="156.30" y1="451.70" x2="156.30" y2="453.50" stroke="#333" stroke-width="0.7" />
<text x="156.40" y="458.90" font-size="3.8" text-anchor="middle" font-weight="bold" fill="#222">10<tspan dy="-1.5" font-size="2.6">0</tspan></text>
<line x1="176.80" y1="451.70" x2="176.80" y2="453.50" stroke="#333" stroke-width="0.7" />
<text x="176.90" y="458.90" font-size="3.8" text-anchor="middle" font-weight="bold" fill="#222">10<tspan dy="-1.5" font-size="2.6">1</tspan></text>
<line x1="197.30" y1="451.70" x2="197.30" y2="453.50" stroke="#333" stroke-width="0.7" />
<text x="197.40" y="458.90" font-size="3.8" text-anchor="middle" font-weight="bold" fill="#222">10<tspan dy="-1.5" font-size="2.6">2</tspan></text>
<line x1="217.80" y1="451.70" x2="217.80" y2="453.50" stroke="#333" stroke-width="0.7" />
<text x="217.90" y="458.90" font-size="3.8" text-anchor="middle" font-weight="bold" fill="#222">10<tspan dy="-1.5" font-size="2.6">3</tspan></text>
<line x1="238.30" y1="451.70" x2="238.30" y2="453.50" stroke="#333" stroke-width="0.7" />
<text x="238.40" y="458.90" font-size="3.8" text-anchor="middle" font-weight="bold" fill="#222">10<tspan dy="-1.5" font-size="2.6">4</tspan></text>
<text x="196.90" y="463.20" font-size="3.6" text-anchor="middle" font-weight="bold" fill="#222">FL2-H: FL2-Height</text>
<text x="145.90" y="410.80" font-size="3.5" text-anchor="middle" font-weight="bold" transform="rotate(-90 145.90 410.80)" fill="#222">% of Max</text>
<text x="235.20" y="377.90" font-size="6.4" text-anchor="end" font-weight="bold" textLength="31.46" lengthAdjust="spacingAndGlyphs" stroke="#000" stroke-width="0.4">SMZBCL</text>
<path d="M285.00,451.70 L285.00,438.00 L285.50,437.20 L286.00,436.64 L286.50,435.53 L287.00,433.01 L287.50,431.22 L288.00,428.52 L288.50,421.47 L289.00,416.35 L289.50,412.14 L290.00,404.91 L290.50,398.88 L291.00,391.06 L291.50,388.77 L292.00,383.07 L292.50,379.73 L293.00,374.40 L293.50,379.48 L294.00,390.09 L294.50,396.02 L295.00,402.42 L295.50,412.54 L296.00,417.89 L296.50,423.18 L297.00,431.06 L297.50,437.46 L298.00,439.58 L298.50,443.59 L299.00,446.63 L299.50,447.23 L300.00,447.78 L300.50,448.34 L301.00,448.89 L301.50,449.29 L302.00,449.86 L302.50,449.88 L303.00,450.13 L303.50,450.71 L304.00,450.99 L304.50,451.21 L305.00,451.09 L305.50,451.30 L306.00,451.23 L306.50,451.35 L307.00,451.28 L307.50,451.32 L308.00,451.34 L308.50,451.25 L309.00,451.25 L309.50,451.13 L310.00,451.22 L310.50,451.12 L311.00,451.15 L311.50,451.10 L312.00,451.23 L312.50,451.42 L313.00,451.16 L313.50,451.12 L314.00,451.14 L314.50,451.27 L315.00,451.22 L315.50,451.41 L316.00,451.18 L316.50,451.28 L317.00,451.39 L317.50,451.48 L318.00,451.17 L318.50,451.12 L319.00,451.47 L319.50,451.20 L320.00,451.35 L320.50,451.46 L321.00,451.40 L321.50,451.22 L322.00,451.18 L322.50,451.51 L323.00,451.29 L323.50,451.51 L324.00,451.25 L324.50,451.40 L325.00,451.19 L325.50,451.16 L326.00,451.34 L326.50,451.15 L327.00,451.42 L327.50,451.51 L328.00,451.31 L328.50,451.54 L329.00,451.47 L329.50,451.39 L330.00,451.32 L330.50,451.50 L331.00,451.54 L331.50,451.23 L332.00,451.44 L332.50,451.20 L333.00,451.22 L333.50,451.42 L334.00,451.39 L334.50,451.37 L335.00,451.33 L335.50,451.35 L336.00,451.37 L336.50,451.34 L337.00,451.22 L337.50,451.39 L338.00,451.42 L338.50,451.31 L339.00,451.50 L339.50,451.48 L340.00,451.22 L340.50,451.40 L341.00,451.39 L341.50,451.60 L342.00,451.45 L342.50,451.39 L343.00,451.61 L343.50,451.38 L344.00,451.37 L344.50,451.60 L345.00,451.38 L345.50,451.44 L346.00,451.36 L346.50,451.49 L347.00,451.36 L347.50,451.35 L348.00,451.63 L348.50,451.61 L349.00,451.38 L349.50,451.27 L350.00,451.55 L350.50,451.47 L351.00,451.42 L351.50,451.53 L352.00,451.51 L352.50,451.53 L353.00,451.51 L353.50,451.43 L354.00,451.54 L354.50,451.52 L355.00,451.36 L355.50,451.65 L356.00,451.45 L356.50,451.38 L357.00,451.55 L357.50,451.59 L358.00,451.36 L358.50,451.58 L359.00,451.60 L359.50,451.51 L360.00,451.41 L360.50,451.64 L361.00,451.56 L361.50,451.56 L362.00,451.36 L362.50,451.52 L363.00,451.36 L363.50,451.62 L364.00,451.56 L364.50,451.44 L365.00,451.35 L365.50,451.52 L366.00,451.61 L366.50,451.65 L367.00,451.49 L367.50,451.63 L367.70,451.70 Z" fill="#9c9c9c" stroke="#6a6a6a" stroke-width="0.6" stroke-linejoin="round"/>
<path d="M285.00,449.29 L285.50,449.86 L286.00,451.03 L286.50,450.80 L287.00,451.03 L287.50,450.96 L288.00,450.66 L288.50,450.95 L289.00,450.77 L289.50,450.83 L290.00,450.82 L290.50,450.79 L291.00,450.89 L291.50,450.63 L292.00,450.91 L292.50,450.84 L293.00,450.92 L293.50,450.69 L294.00,450.45 L294.50,450.05 L295.00,450.08 L295.50,449.86 L296.00,448.83 L296.50,447.61 L297.00,446.63 L297.50,445.59 L298.00,443.22 L298.50,438.65 L299.00,434.19 L299.50,430.30 L300.00,427.10 L300.50,421.33 L301.00,415.30 L301.50,412.15 L302.00,406.92 L302.50,399.58 L303.00,391.64 L303.50,389.09 L304.00,384.75 L304.50,378.21 L305.00,378.26 L305.50,375.87 L306.00,374.40 L306.50,376.12 L307.00,379.45 L307.50,381.78 L308.00,387.19 L308.50,389.72 L309.00,398.21 L309.50,403.02 L310.00,407.07 L310.50,411.95 L311.00,419.13 L311.50,425.50 L312.00,428.78 L312.50,432.54 L313.00,436.46 L313.50,439.98 L314.00,441.71 L314.50,442.88 L315.00,444.92 L315.50,446.61 L316.00,447.89 L316.50,448.21 L317.00,448.63 L317.50,449.06 L318.00,449.64 L318.50,450.05 L319.00,450.39 L319.50,450.23 L320.00,450.23 L320.50,450.52 L321.00,450.46 L321.50,450.57 L322.00,450.41 L322.50,450.31 L323.00,450.64 L323.50,450.45 L324.00,450.66 L324.50,450.81 L325.00,450.55 L325.50,450.74 L326.00,450.84 L326.50,450.76 L327.00,450.87 L327.50,450.83 L328.00,450.84 L328.50,450.87 L329.00,450.82 L329.50,450.96 L330.00,451.04 L330.50,451.05 L331.00,451.04 L331.50,450.89 L332.00,450.95 L332.50,450.78 L333.00,450.90 L333.50,450.82 L334.00,450.72 L334.50,451.08 L335.00,451.10 L335.50,451.05 L336.00,450.96 L336.50,450.89 L337.00,450.83 L337.50,450.98 L338.00,450.75 L338.50,451.12 L339.00,450.80 L339.50,451.05 L340.00,450.79 L340.50,451.12 L341.00,450.77 L341.50,450.85 L342.00,450.76 L342.50,450.92 L343.00,451.08 L343.50,450.78 L344.00,450.99 L344.50,451.13 L345.00,450.93 L345.50,450.98 L346.00,450.99 L346.50,451.12 L347.00,451.14 L347.50,450.96 L348.00,451.01 L348.50,451.14 L349.00,451.03 L349.50,450.92 L350.00,450.93 L350.50,451.03 L351.00,451.06 L351.50,451.08 L352.00,451.13 L352.50,451.15 L353.00,451.06 L353.50,451.19 L354.00,450.95 L354.50,450.97 L355.00,451.01 L355.50,451.24 L356.00,451.11 L356.50,451.09 L357.00,451.22 L357.50,450.89 L358.00,450.97 L358.50,451.07 L359.00,451.00 L359.50,451.20 L360.00,451.19 L360.50,451.08 L361.00,450.99 L361.50,451.03 L362.00,451.28 L362.50,451.05 L363.00,450.94 L363.50,451.01 L364.00,450.94 L364.50,450.92 L365.00,451.22 L365.50,451.19 L366.00,451.09 L366.50,450.93 L367.00,451.17 L367.50,450.95" fill="none" stroke="#000" stroke-width="0.85" stroke-linejoin="round"/>
<rect x="285.00" y="369.90" width="82.70" height="81.80" fill="none" stroke="#8a8a8a" stroke-width="0.8"/>
<path d="M285.00,369.90V451.70H367.70" fill="none" stroke="#555" stroke-width="0.8"/>
<line x1="283.20" y1="451.70" x2="285.00" y2="451.70" stroke="#333" stroke-width="0.7" />
<text x="281.60" y="453.00" font-size="3.6" text-anchor="end" font-weight="bold" fill="#222">0</text>
<line x1="283.20" y1="436.24" x2="285.00" y2="436.24" stroke="#333" stroke-width="0.7" />
<text x="281.60" y="437.54" font-size="3.6" text-anchor="end" font-weight="bold" fill="#222">20</text>
<line x1="283.20" y1="420.78" x2="285.00" y2="420.78" stroke="#333" stroke-width="0.7" />
<text x="281.60" y="422.08" font-size="3.6" text-anchor="end" font-weight="bold" fill="#222">40</text>
<line x1="283.20" y1="405.32" x2="285.00" y2="405.32" stroke="#333" stroke-width="0.7" />
<text x="281.60" y="406.62" font-size="3.6" text-anchor="end" font-weight="bold" fill="#222">60</text>
<line x1="283.20" y1="389.86" x2="285.00" y2="389.86" stroke="#333" stroke-width="0.7" />
<text x="281.60" y="391.16" font-size="3.6" text-anchor="end" font-weight="bold" fill="#222">80</text>
<line x1="283.20" y1="374.40" x2="285.00" y2="374.40" stroke="#333" stroke-width="0.7" />
<text x="281.60" y="375.70" font-size="3.6" text-anchor="end" font-weight="bold" fill="#222">100</text>
<line x1="285.00" y1="451.70" x2="285.00" y2="453.50" stroke="#333" stroke-width="0.7" />
<text x="285.10" y="458.90" font-size="3.8" text-anchor="middle" font-weight="bold" fill="#222">10<tspan dy="-1.5" font-size="2.6">0</tspan></text>
<line x1="305.68" y1="451.70" x2="305.68" y2="453.50" stroke="#333" stroke-width="0.7" />
<text x="305.78" y="458.90" font-size="3.8" text-anchor="middle" font-weight="bold" fill="#222">10<tspan dy="-1.5" font-size="2.6">1</tspan></text>
<line x1="326.35" y1="451.70" x2="326.35" y2="453.50" stroke="#333" stroke-width="0.7" />
<text x="326.45" y="458.90" font-size="3.8" text-anchor="middle" font-weight="bold" fill="#222">10<tspan dy="-1.5" font-size="2.6">2</tspan></text>
<line x1="347.02" y1="451.70" x2="347.02" y2="453.50" stroke="#333" stroke-width="0.7" />
<text x="347.12" y="458.90" font-size="3.8" text-anchor="middle" font-weight="bold" fill="#222">10<tspan dy="-1.5" font-size="2.6">3</tspan></text>
<line x1="367.70" y1="451.70" x2="367.70" y2="453.50" stroke="#333" stroke-width="0.7" />
<text x="367.80" y="458.90" font-size="3.8" text-anchor="middle" font-weight="bold" fill="#222">10<tspan dy="-1.5" font-size="2.6">4</tspan></text>
<text x="325.95" y="463.20" font-size="3.6" text-anchor="middle" font-weight="bold" fill="#222">FL2-H: FL2-Height</text>
<text x="274.60" y="410.80" font-size="3.5" text-anchor="middle" font-weight="bold" transform="rotate(-90 274.60 410.80)" fill="#222">% of Max</text>
<text x="364.60" y="377.90" font-size="6.4" text-anchor="end" font-weight="bold" textLength="25.18" lengthAdjust="spacingAndGlyphs" stroke="#000" stroke-width="0.4">JeKo-1</text>
<path d="M24.60,554.00 L24.60,540.53 L25.10,539.07 L25.60,537.03 L26.10,536.29 L26.60,534.79 L27.10,532.02 L27.60,528.65 L28.10,527.41 L28.60,526.69 L29.10,527.71 L29.60,525.77 L30.10,525.84 L30.60,525.44 L31.10,522.96 L31.60,518.97 L32.10,512.57 L32.60,513.52 L33.10,516.84 L33.60,518.40 L34.10,518.37 L34.60,514.34 L35.10,508.92 L35.60,504.97 L36.10,502.55 L36.60,503.49 L37.10,509.27 L37.60,506.71 L38.10,503.66 L38.60,501.39 L39.10,501.24 L39.60,497.78 L40.10,498.30 L40.60,490.12 L41.10,489.01 L41.60,488.00 L42.10,485.58 L42.60,476.70 L43.10,477.03 L43.60,476.70 L44.10,478.67 L44.60,482.64 L45.10,482.03 L45.60,478.55 L46.10,478.50 L46.60,482.69 L47.10,486.70 L47.60,486.57 L48.10,498.21 L48.60,505.17 L49.10,506.92 L49.60,511.62 L50.10,514.48 L50.60,519.61 L51.10,524.96 L51.60,527.24 L52.10,532.73 L52.60,534.25 L53.10,537.74 L53.60,540.65 L54.10,544.93 L54.60,548.19 L55.10,550.47 L55.60,551.13 L56.10,551.68 L56.60,552.28 L57.10,553.23 L57.60,553.59 L58.10,553.53 L58.60,553.32 L59.10,553.38 L59.60,553.53 L60.10,553.50 L60.60,553.56 L61.10,553.45 L61.60,553.62 L62.10,553.37 L62.60,553.29 L63.10,553.27 L63.60,553.36 L64.10,553.28 L64.60,553.64 L65.10,553.54 L65.60,553.28 L66.10,553.36 L66.60,553.51 L67.10,553.30 L67.60,553.43 L68.10,553.36 L68.60,553.57 L69.10,553.61 L69.60,553.52 L70.10,553.64 L70.60,553.55 L71.10,553.33 L71.60,553.58 L72.10,553.70 L72.60,553.70 L73.10,553.65 L73.60,553.42 L74.10,553.59 L74.60,553.62 L75.10,553.70 L75.60,553.36 L76.10,553.58 L76.60,553.67 L77.10,553.73 L77.60,553.74 L78.10,553.70 L78.60,553.51 L79.10,553.71 L79.60,553.76 L80.10,553.59 L80.60,553.69 L81.10,553.41 L81.60,553.75 L82.10,553.60 L82.60,553.51 L83.10,553.65 L83.60,553.43 L84.10,553.64 L84.60,553.73 L85.10,553.67 L85.60,553.82 L86.10,553.68 L86.60,553.75 L87.10,553.50 L87.60,553.53 L88.10,553.66 L88.60,553.85 L89.10,553.77 L89.60,553.78 L90.10,553.80 L90.60,553.79 L91.10,553.55 L91.60,553.83 L92.10,553.87 L92.60,553.54 L93.10,553.68 L93.60,553.52 L94.10,553.76 L94.60,553.57 L95.10,553.67 L95.60,553.62 L96.10,553.64 L96.60,553.74 L97.10,553.90 L97.60,553.86 L98.10,553.61 L98.60,553.60 L99.10,553.59 L99.60,553.82 L100.10,553.70 L100.60,553.65 L101.10,553.72 L101.60,553.65 L102.10,553.77 L102.60,553.72 L103.10,553.71 L103.60,553.88 L104.10,553.63 L104.60,553.61 L105.10,553.96 L105.60,553.61 L106.10,553.62 L106.60,553.74 L106.60,554.00 Z" fill="#9c9c9c" stroke="#6a6a6a" stroke-width="0.6" stroke-linejoin="round"/>
<path d="M24.60,540.14 L25.10,540.70 L25.60,541.21 L26.10,539.23 L26.60,539.19 L27.10,536.93 L27.60,534.77 L28.10,535.19 L28.60,533.56 L29.10,532.63 L29.60,532.86 L30.10,530.94 L30.60,528.92 L31.10,528.36 L31.60,526.59 L32.10,527.35 L32.60,526.45 L33.10,525.76 L33.60,523.21 L34.10,520.32 L34.60,519.83 L35.10,517.75 L35.60,517.97 L36.10,515.80 L36.60,516.97 L37.10,514.51 L37.60,510.93 L38.10,508.70 L38.60,508.37 L39.10,508.79 L39.60,505.13 L40.10,501.30 L40.60,496.46 L41.10,489.41 L41.60,491.34 L42.10,485.12 L42.60,482.94 L43.10,486.64 L43.60,482.98 L44.10,483.09 L44.60,487.48 L45.10,483.90 L45.60,477.68 L46.10,481.05 L46.60,477.80 L47.10,484.00 L47.60,483.24 L48.10,483.19 L48.60,491.52 L49.10,496.89 L49.60,500.01 L50.10,499.67 L50.60,505.18 L51.10,508.36 L51.60,510.40 L52.10,512.49 L52.60,517.50 L53.10,519.88 L53.60,523.21 L54.10,529.94 L54.60,534.26 L55.10,539.60 L55.60,541.79 L56.10,543.78 L56.60,547.58 L57.10,550.13 L57.60,551.50 L58.10,552.06 L58.60,552.53 L59.10,552.74 L59.60,553.00 L60.10,553.34 L60.60,553.11 L61.10,553.02 L61.60,553.30 L62.10,553.16 L62.60,553.38 L63.10,553.26 L63.60,553.14 L64.10,553.18 L64.60,553.11 L65.10,553.38 L65.60,553.28 L66.10,553.08 L66.60,553.20 L67.10,553.25 L67.60,553.27 L68.10,553.05 L68.60,553.21 L69.10,553.43 L69.60,553.13 L70.10,553.32 L70.60,553.28 L71.10,553.37 L71.60,553.29 L72.10,553.34 L72.60,553.43 L73.10,553.23 L73.60,553.44 L74.10,553.18 L74.60,553.48 L75.10,553.19 L75.60,553.18 L76.10,553.31 L76.60,553.23 L77.10,553.41 L77.60,553.23 L78.10,553.35 L78.60,553.43 L79.10,553.16 L79.60,553.38 L80.10,553.39 L80.60,553.21 L81.10,553.41 L81.60,553.30 L82.10,553.49 L82.60,553.24 L83.10,553.47 L83.60,553.55 L84.10,553.20 L84.60,553.52 L85.10,553.22 L85.60,553.21 L86.10,553.36 L86.60,553.60 L87.10,553.58 L87.60,553.53 L88.10,553.47 L88.60,553.39 L89.10,553.25 L89.60,553.50 L90.10,553.58 L90.60,553.42 L91.10,553.59 L91.60,553.62 L92.10,553.44 L92.60,553.39 L93.10,553.64 L93.60,553.50 L94.10,553.40 L94.60,553.38 L95.10,553.53 L95.60,553.34 L96.10,553.63 L96.60,553.42 L97.10,553.40 L97.60,553.36 L98.10,553.52 L98.60,553.67 L99.10,553.70 L99.60,553.51 L100.10,553.66 L100.60,553.48 L101.10,553.70 L101.60,553.43 L102.10,553.65 L102.60,553.73 L103.10,553.68 L103.60,553.57 L104.10,553.53 L104.60,553.60 L105.10,553.69 L105.60,553.57 L106.10,553.39 L106.60,553.56" fill="none" stroke="#000" stroke-width="1.0" stroke-linejoin="round"/>
<rect x="24.60" y="472.30" width="82.00" height="81.70" fill="none" stroke="#8a8a8a" stroke-width="0.8"/>
<path d="M24.60,472.30V554.00H106.60" fill="none" stroke="#555" stroke-width="0.8"/>
<line x1="22.80" y1="554.00" x2="24.60" y2="554.00" stroke="#333" stroke-width="0.7" />
<text x="21.20" y="555.30" font-size="3.6" text-anchor="end" font-weight="bold" fill="#222">0</text>
<line x1="22.80" y1="538.54" x2="24.60" y2="538.54" stroke="#333" stroke-width="0.7" />
<text x="21.20" y="539.84" font-size="3.6" text-anchor="end" font-weight="bold" fill="#222">20</text>
<line x1="22.80" y1="523.08" x2="24.60" y2="523.08" stroke="#333" stroke-width="0.7" />
<text x="21.20" y="524.38" font-size="3.6" text-anchor="end" font-weight="bold" fill="#222">40</text>
<line x1="22.80" y1="507.62" x2="24.60" y2="507.62" stroke="#333" stroke-width="0.7" />
<text x="21.20" y="508.92" font-size="3.6" text-anchor="end" font-weight="bold" fill="#222">60</text>
<line x1="22.80" y1="492.16" x2="24.60" y2="492.16" stroke="#333" stroke-width="0.7" />
<text x="21.20" y="493.46" font-size="3.6" text-anchor="end" font-weight="bold" fill="#222">80</text>
<line x1="22.80" y1="476.70" x2="24.60" y2="476.70" stroke="#333" stroke-width="0.7" />
<text x="21.20" y="478.00" font-size="3.6" text-anchor="end" font-weight="bold" fill="#222">100</text>
<line x1="24.60" y1="554.00" x2="24.60" y2="555.80" stroke="#333" stroke-width="0.7" />
<text x="24.70" y="561.20" font-size="3.8" text-anchor="middle" font-weight="bold" fill="#222">10<tspan dy="-1.5" font-size="2.6">0</tspan></text>
<line x1="45.10" y1="554.00" x2="45.10" y2="555.80" stroke="#333" stroke-width="0.7" />
<text x="45.20" y="561.20" font-size="3.8" text-anchor="middle" font-weight="bold" fill="#222">10<tspan dy="-1.5" font-size="2.6">1</tspan></text>
<line x1="65.60" y1="554.00" x2="65.60" y2="555.80" stroke="#333" stroke-width="0.7" />
<text x="65.70" y="561.20" font-size="3.8" text-anchor="middle" font-weight="bold" fill="#222">10<tspan dy="-1.5" font-size="2.6">2</tspan></text>
<line x1="86.10" y1="554.00" x2="86.10" y2="555.80" stroke="#333" stroke-width="0.7" />
<text x="86.20" y="561.20" font-size="3.8" text-anchor="middle" font-weight="bold" fill="#222">10<tspan dy="-1.5" font-size="2.6">3</tspan></text>
<line x1="106.60" y1="554.00" x2="106.60" y2="555.80" stroke="#333" stroke-width="0.7" />
<text x="106.70" y="561.20" font-size="3.8" text-anchor="middle" font-weight="bold" fill="#222">10<tspan dy="-1.5" font-size="2.6">4</tspan></text>
<text x="65.20" y="565.50" font-size="3.6" text-anchor="middle" font-weight="bold" fill="#222">FL2-H: FL2-Height</text>
<text x="14.20" y="513.15" font-size="3.5" text-anchor="middle" font-weight="bold" transform="rotate(-90 14.20 513.15)" fill="#222">% of Max</text>
<text x="103.50" y="480.30" font-size="6.4" text-anchor="end" font-weight="bold" textLength="19.31" lengthAdjust="spacingAndGlyphs" stroke="#000" stroke-width="0.4">CD19</text>
<path d="M156.30,554.00 L156.30,530.52 L156.80,542.42 L157.30,551.32 L157.80,550.93 L158.30,550.78 L158.80,550.19 L159.30,549.97 L159.80,549.18 L160.30,548.30 L160.80,547.86 L161.30,547.13 L161.80,547.18 L162.30,546.53 L162.80,546.41 L163.30,545.82 L163.80,545.32 L164.30,545.26 L164.80,544.48 L165.30,543.80 L165.80,542.51 L166.30,542.11 L166.80,542.37 L167.30,541.26 L167.80,541.28 L168.30,539.45 L168.80,538.79 L169.30,537.55 L169.80,534.50 L170.30,534.45 L170.80,533.41 L171.30,530.74 L171.80,529.00 L172.30,527.97 L172.80,523.20 L173.30,521.47 L173.80,518.13 L174.30,517.37 L174.80,512.60 L175.30,511.29 L175.80,505.59 L176.30,500.55 L176.80,498.88 L177.30,495.31 L177.80,495.58 L178.30,494.49 L178.80,494.11 L179.30,492.06 L179.80,489.31 L180.30,492.46 L180.80,488.22 L181.30,491.19 L181.80,492.26 L182.30,489.87 L182.80,493.75 L183.30,500.48 L183.80,506.58 L184.30,511.48 L184.80,517.92 L185.30,521.03 L185.80,530.83 L186.30,535.05 L186.80,537.89 L187.30,542.65 L187.80,546.21 L188.30,550.53 L188.80,553.00 L189.30,553.23 L189.80,553.22 L190.30,553.17 L190.80,552.88 L191.30,553.17 L191.80,552.96 L192.30,552.90 L192.80,552.90 L193.30,553.14 L193.80,553.14 L194.30,553.08 L194.80,552.99 L195.30,553.25 L195.80,553.01 L196.30,553.00 L196.80,552.98 L197.30,553.31 L197.80,552.96 L198.30,553.30 L198.80,553.21 L199.30,553.12 L199.80,553.00 L200.30,553.24 L200.80,553.02 L201.30,553.17 L201.80,553.27 L202.30,553.28 L202.80,553.34 L203.30,553.39 L203.80,553.37 L204.30,553.17 L204.80,553.06 L205.30,553.39 L205.80,553.44 L206.30,553.09 L206.80,553.27 L207.30,553.33 L207.80,553.41 L208.30,553.28 L208.80,553.20 L209.30,553.35 L209.80,553.37 L210.30,553.52 L210.80,553.20 L211.30,553.55 L211.80,553.38 L212.30,553.26 L212.80,553.54 L213.30,553.32 L213.80,553.24 L214.30,553.38 L214.80,553.33 L215.30,553.60 L215.80,553.48 L216.30,553.60 L216.80,553.34 L217.30,553.56 L217.80,553.51 L218.30,553.31 L218.80,553.38 L219.30,553.34 L219.80,553.55 L220.30,553.55 L220.80,553.46 L221.30,553.57 L221.80,553.65 L222.30,553.62 L222.80,553.72 L223.30,553.64 L223.80,553.42 L224.30,553.44 L224.80,553.57 L225.30,553.63 L225.80,553.70 L226.30,553.81 L226.80,553.74 L227.30,553.55 L227.80,553.53 L228.30,553.73 L228.80,553.58 L229.30,553.59 L229.80,553.63 L230.30,553.65 L230.80,553.62 L231.30,553.78 L231.80,553.65 L232.30,553.82 L232.80,553.75 L233.30,553.64 L233.80,553.68 L234.30,553.84 L234.80,553.59 L235.30,553.71 L235.80,553.75 L236.30,553.97 L236.80,553.77 L237.30,553.89 L237.80,553.73 L238.30,553.82 L238.30,554.00 Z" fill="#9c9c9c" stroke="#6a6a6a" stroke-width="0.6" stroke-linejoin="round"/>
<path d="M156.30,515.07 L156.80,542.97 L157.30,551.41 L157.80,551.45 L158.30,551.09 L158.80,550.94 L159.30,550.84 L159.80,550.86 L160.30,550.75 L160.80,550.65 L161.30,550.53 L161.80,550.14 L162.30,550.01 L162.80,550.27 L163.30,549.64 L163.80,549.35 L164.30,548.98 L164.80,548.53 L165.30,547.78 L165.80,547.41 L166.30,546.79 L166.80,546.42 L167.30,546.55 L167.80,545.28 L168.30,543.96 L168.80,542.62 L169.30,541.60 L169.80,540.99 L170.30,539.88 L170.80,538.76 L171.30,536.46 L171.80,535.58 L172.30,532.90 L172.80,528.68 L173.30,527.07 L173.80,523.45 L174.30,521.21 L174.80,520.53 L175.30,516.42 L175.80,510.96 L176.30,508.82 L176.80,503.81 L177.30,499.60 L177.80,498.38 L178.30,490.98 L178.80,485.41 L179.30,481.95 L179.80,477.79 L180.30,478.48 L180.80,489.19 L181.30,487.25 L181.80,487.18 L182.30,486.45 L182.80,492.55 L183.30,490.94 L183.80,498.44 L184.30,503.80 L184.80,507.02 L185.30,511.38 L185.80,517.36 L186.30,523.60 L186.80,530.73 L187.30,536.01 L187.80,538.48 L188.30,543.31 L188.80,548.07 L189.30,551.65 L189.80,552.79 L190.30,552.62 L190.80,552.58 L191.30,552.63 L191.80,552.77 L192.30,552.86 L192.80,552.86 L193.30,553.07 L193.80,552.83 L194.30,553.02 L194.80,553.07 L195.30,553.20 L195.80,553.10 L196.30,553.09 L196.80,553.20 L197.30,553.05 L197.80,553.16 L198.30,553.36 L198.80,553.28 L199.30,553.16 L199.80,553.33 L200.30,553.30 L200.80,553.51 L201.30,553.35 L201.80,553.36 L202.30,553.39 L202.80,553.38 L203.30,553.32 L203.80,553.34 L204.30,553.36 L204.80,553.49 L205.30,553.39 L205.80,553.19 L206.30,553.40 L206.80,553.55 L207.30,553.57 L207.80,553.36 L208.30,553.55 L208.80,553.54 L209.30,553.54 L209.80,553.41 L210.30,553.20 L210.80,553.40 L211.30,553.42 L211.80,553.43 L212.30,553.41 L212.80,553.43 L213.30,553.33 L213.80,553.26 L214.30,553.34 L214.80,553.45 L215.30,553.37 L215.80,553.27 L216.30,553.57 L216.80,553.54 L217.30,553.40 L217.80,553.37 L218.30,553.39 L218.80,553.42 L219.30,553.33 L219.80,553.47 L220.30,553.35 L220.80,553.29 L221.30,553.50 L221.80,553.34 L222.30,553.40 L222.80,553.33 L223.30,553.66 L223.80,553.33 L224.30,553.39 L224.80,553.32 L225.30,553.32 L225.80,553.59 L226.30,553.44 L226.80,553.65 L227.30,553.48 L227.80,553.36 L228.30,553.64 L228.80,553.58 L229.30,553.69 L229.80,553.65 L230.30,553.65 L230.80,553.69 L231.30,553.35 L231.80,553.39 L232.30,553.56 L232.80,553.45 L233.30,553.48 L233.80,553.55 L234.30,553.59 L234.80,553.50 L235.30,553.54 L235.80,553.65 L236.30,553.62 L236.80,553.52 L237.30,553.52 L237.80,553.68 L238.30,553.53" fill="none" stroke="#000" stroke-width="0.9" stroke-linejoin="round"/>
<rect x="156.30" y="472.30" width="82.00" height="81.70" fill="none" stroke="#8a8a8a" stroke-width="0.8"/>
<path d="M156.30,472.30V554.00H238.30" fill="none" stroke="#555" stroke-width="0.8"/>
<line x1="154.50" y1="554.00" x2="156.30" y2="554.00" stroke="#333" stroke-width="0.7" />
<text x="152.90" y="555.30" font-size="3.6" text-anchor="end" font-weight="bold" fill="#222">0</text>
<line x1="154.50" y1="538.54" x2="156.30" y2="538.54" stroke="#333" stroke-width="0.7" />
<text x="152.90" y="539.84" font-size="3.6" text-anchor="end" font-weight="bold" fill="#222">20</text>
<line x1="154.50" y1="523.08" x2="156.30" y2="523.08" stroke="#333" stroke-width="0.7" />
<text x="152.90" y="524.38" font-size="3.6" text-anchor="end" font-weight="bold" fill="#222">40</text>
<line x1="154.50" y1="507.62" x2="156.30" y2="507.62" stroke="#333" stroke-width="0.7" />
<text x="152.90" y="508.92" font-size="3.6" text-anchor="end" font-weight="bold" fill="#222">60</text>
<line x1="154.50" y1="492.16" x2="156.30" y2="492.16" stroke="#333" stroke-width="0.7" />
<text x="152.90" y="493.46" font-size="3.6" text-anchor="end" font-weight="bold" fill="#222">80</text>
<line x1="154.50" y1="476.70" x2="156.30" y2="476.70" stroke="#333" stroke-width="0.7" />
<text x="152.90" y="478.00" font-size="3.6" text-anchor="end" font-weight="bold" fill="#222">100</text>
<line x1="156.30" y1="554.00" x2="156.30" y2="555.80" stroke="#333" stroke-width="0.7" />
<text x="156.40" y="561.20" font-size="3.8" text-anchor="middle" font-weight="bold" fill="#222">10<tspan dy="-1.5" font-size="2.6">0</tspan></text>
<line x1="176.80" y1="554.00" x2="176.80" y2="555.80" stroke="#333" stroke-width="0.7" />
<text x="176.90" y="561.20" font-size="3.8" text-anchor="middle" font-weight="bold" fill="#222">10<tspan dy="-1.5" font-size="2.6">1</tspan></text>
<line x1="197.30" y1="554.00" x2="197.30" y2="555.80" stroke="#333" stroke-width="0.7" />
<text x="197.40" y="561.20" font-size="3.8" text-anchor="middle" font-weight="bold" fill="#222">10<tspan dy="-1.5" font-size="2.6">2</tspan></text>
<line x1="217.80" y1="554.00" x2="217.80" y2="555.80" stroke="#333" stroke-width="0.7" />
<text x="217.90" y="561.20" font-size="3.8" text-anchor="middle" font-weight="bold" fill="#222">10<tspan dy="-1.5" font-size="2.6">3</tspan></text>
<line x1="238.30" y1="554.00" x2="238.30" y2="555.80" stroke="#333" stroke-width="0.7" />
<text x="238.40" y="561.20" font-size="3.8" text-anchor="middle" font-weight="bold" fill="#222">10<tspan dy="-1.5" font-size="2.6">4</tspan></text>
<text x="196.90" y="565.50" font-size="3.6" text-anchor="middle" font-weight="bold" fill="#222">FL2-H: FL2-Height</text>
<text x="145.90" y="513.15" font-size="3.5" text-anchor="middle" font-weight="bold" transform="rotate(-90 145.90 513.15)" fill="#222">% of Max</text>
<text x="235.20" y="480.30" font-size="6.4" text-anchor="end" font-weight="bold" textLength="15.11" lengthAdjust="spacingAndGlyphs" stroke="#000" stroke-width="0.4">CD3</text>
<path d="M285.20,554.00 L285.20,539.76 L285.70,545.00 L286.20,550.83 L286.70,551.26 L287.20,550.89 L287.70,550.00 L288.20,549.31 L288.70,548.49 L289.20,548.11 L289.70,546.47 L290.20,542.17 L290.70,535.81 L291.20,530.80 L291.70,527.52 L292.20,519.64 L292.70,509.82 L293.20,503.56 L293.70,497.66 L294.20,491.74 L294.70,488.55 L295.20,479.76 L295.70,476.70 L296.20,478.17 L296.70,487.63 L297.20,495.27 L297.70,495.97 L298.20,500.31 L298.70,507.44 L299.20,513.88 L299.70,516.79 L300.20,519.68 L300.70,526.00 L301.20,529.59 L301.70,533.00 L302.20,536.69 L302.70,539.90 L303.20,543.54 L303.70,544.83 L304.20,546.49 L304.70,548.76 L305.20,550.80 L305.70,552.28 L306.20,552.92 L306.70,552.85 L307.20,553.22 L307.70,553.10 L308.20,553.01 L308.70,553.13 L309.20,553.02 L309.70,553.22 L310.20,552.92 L310.70,553.06 L311.20,553.22 L311.70,553.02 L312.20,553.16 L312.70,553.21 L313.20,553.10 L313.70,553.24 L314.20,553.22 L314.70,552.97 L315.20,553.04 L315.70,553.31 L316.20,553.02 L316.70,553.32 L317.20,553.20 L317.70,552.99 L318.20,553.10 L318.70,553.23 L319.20,553.21 L319.70,553.21 L320.20,553.32 L320.70,552.99 L321.20,553.36 L321.70,553.22 L322.20,553.10 L322.70,553.25 L323.20,553.03 L323.70,553.32 L324.20,553.04 L324.70,553.08 L325.20,553.18 L325.70,553.10 L326.20,553.28 L326.70,553.14 L327.20,553.16 L327.70,553.27 L328.20,553.30 L328.70,553.21 L329.20,553.34 L329.70,553.47 L330.20,553.22 L330.70,553.41 L331.20,553.34 L331.70,553.23 L332.20,553.47 L332.70,553.54 L333.20,553.51 L333.70,553.33 L334.20,553.43 L334.70,553.48 L335.20,553.41 L335.70,553.23 L336.20,553.50 L336.70,553.45 L337.20,553.28 L337.70,553.39 L338.20,553.53 L338.70,553.46 L339.20,553.46 L339.70,553.60 L340.20,553.52 L340.70,553.55 L341.20,553.37 L341.70,553.56 L342.20,553.44 L342.70,553.33 L343.20,553.35 L343.70,553.57 L344.20,553.49 L344.70,553.61 L345.20,553.59 L345.70,553.56 L346.20,553.45 L346.70,553.40 L347.20,553.66 L347.70,553.77 L348.20,553.61 L348.70,553.77 L349.20,553.79 L349.70,553.51 L350.20,553.77 L350.70,553.54 L351.20,553.69 L351.70,553.47 L352.20,553.51 L352.70,553.82 L353.20,553.78 L353.70,553.49 L354.20,553.63 L354.70,553.71 L355.20,553.58 L355.70,553.57 L356.20,553.70 L356.70,553.71 L357.20,553.86 L357.70,553.77 L358.20,553.86 L358.70,553.68 L359.20,553.69 L359.70,553.87 L360.20,553.69 L360.70,553.90 L361.20,553.90 L361.70,553.70 L362.20,553.78 L362.70,553.61 L363.20,553.72 L363.70,553.70 L364.20,553.92 L364.70,553.65 L365.20,553.95 L365.70,553.75 L366.20,553.64 L366.70,553.64 L367.20,553.65 L367.70,553.82 L367.80,554.00 Z" fill="#9c9c9c" stroke="#6a6a6a" stroke-width="0.6" stroke-linejoin="round"/>
<path d="M285.20,544.76 L285.70,548.56 L286.20,552.10 L286.70,552.19 L287.20,552.06 L287.70,551.88 L288.20,551.89 L288.70,551.63 L289.20,551.48 L289.70,551.14 L290.20,550.73 L290.70,549.61 L291.20,548.51 L291.70,546.93 L292.20,545.86 L292.70,545.42 L293.20,543.50 L293.70,540.16 L294.20,536.36 L294.70,532.39 L295.20,530.31 L295.70,525.30 L296.20,514.70 L296.70,508.65 L297.20,502.12 L297.70,493.19 L298.20,490.01 L298.70,484.58 L299.20,480.97 L299.70,476.70 L300.20,477.98 L300.70,480.88 L301.20,485.59 L301.70,487.44 L302.20,493.34 L302.70,500.89 L303.20,503.48 L303.70,507.84 L304.20,515.19 L304.70,522.77 L305.20,528.98 L305.70,532.10 L306.20,536.33 L306.70,541.19 L307.20,544.07 L307.70,545.67 L308.20,547.06 L308.70,549.22 L309.20,550.65 L309.70,552.13 L310.20,552.85 L310.70,552.78 L311.20,552.52 L311.70,552.71 L312.20,552.53 L312.70,552.78 L313.20,552.92 L313.70,552.73 L314.20,552.70 L314.70,552.92 L315.20,553.01 L315.70,552.94 L316.20,552.72 L316.70,552.82 L317.20,553.09 L317.70,553.06 L318.20,553.14 L318.70,553.17 L319.20,552.90 L319.70,553.15 L320.20,553.01 L320.70,553.06 L321.20,553.16 L321.70,552.95 L322.20,553.19 L322.70,552.99 L323.20,553.20 L323.70,553.08 L324.20,553.17 L324.70,553.15 L325.20,552.88 L325.70,552.95 L326.20,553.14 L326.70,552.92 L327.20,553.19 L327.70,553.12 L328.20,552.94 L328.70,553.03 L329.20,553.24 L329.70,552.90 L330.20,553.21 L330.70,553.19 L331.20,553.00 L331.70,553.18 L332.20,553.19 L332.70,553.28 L333.20,553.28 L333.70,553.10 L334.20,553.23 L334.70,553.10 L335.20,553.19 L335.70,553.16 L336.20,552.97 L336.70,553.16 L337.20,553.13 L337.70,553.02 L338.20,553.29 L338.70,553.31 L339.20,553.02 L339.70,553.06 L340.20,553.29 L340.70,553.31 L341.20,553.11 L341.70,553.03 L342.20,553.33 L342.70,553.04 L343.20,553.07 L343.70,553.18 L344.20,553.26 L344.70,553.39 L345.20,553.42 L345.70,553.07 L346.20,553.35 L346.70,553.18 L347.20,553.35 L347.70,553.14 L348.20,553.23 L348.70,553.35 L349.20,553.40 L349.70,553.20 L350.20,553.46 L350.70,553.40 L351.20,553.28 L351.70,553.17 L352.20,553.26 L352.70,553.40 L353.20,553.16 L353.70,553.44 L354.20,553.51 L354.70,553.42 L355.20,553.36 L355.70,553.51 L356.20,553.47 L356.70,553.40 L357.20,553.32 L357.70,553.50 L358.20,553.41 L358.70,553.21 L359.20,553.18 L359.70,553.31 L360.20,553.30 L360.70,553.35 L361.20,553.52 L361.70,553.57 L362.20,553.58 L362.70,553.23 L363.20,553.32 L363.70,553.22 L364.20,553.59 L364.70,553.35 L365.20,553.41 L365.70,553.32 L366.20,553.48 L366.70,553.22 L367.20,553.58 L367.70,553.40" fill="none" stroke="#000" stroke-width="0.85" stroke-linejoin="round"/>
<rect x="285.20" y="472.30" width="82.60" height="81.70" fill="none" stroke="#8a8a8a" stroke-width="0.8"/>
<path d="M285.20,472.30V554.00H367.80" fill="none" stroke="#555" stroke-width="0.8"/>
<line x1="283.40" y1="554.00" x2="285.20" y2="554.00" stroke="#333" stroke-width="0.7" />
<text x="281.80" y="555.30" font-size="3.6" text-anchor="end" font-weight="bold" fill="#222">0</text>
<line x1="283.40" y1="538.54" x2="285.20" y2="538.54" stroke="#333" stroke-width="0.7" />
<text x="281.80" y="539.84" font-size="3.6" text-anchor="end" font-weight="bold" fill="#222">20</text>
<line x1="283.40" y1="523.08" x2="285.20" y2="523.08" stroke="#333" stroke-width="0.7" />
<text x="281.80" y="524.38" font-size="3.6" text-anchor="end" font-weight="bold" fill="#222">40</text>
<line x1="283.40" y1="507.62" x2="285.20" y2="507.62" stroke="#333" stroke-width="0.7" />
<text x="281.80" y="508.92" font-size="3.6" text-anchor="end" font-weight="bold" fill="#222">60</text>
<line x1="283.40" y1="492.16" x2="285.20" y2="492.16" stroke="#333" stroke-width="0.7" />
<text x="281.80" y="493.46" font-size="3.6" text-anchor="end" font-weight="bold" fill="#222">80</text>
<line x1="283.40" y1="476.70" x2="285.20" y2="476.70" stroke="#333" stroke-width="0.7" />
<text x="281.80" y="478.00" font-size="3.6" text-anchor="end" font-weight="bold" fill="#222">100</text>
<line x1="285.20" y1="554.00" x2="285.20" y2="555.80" stroke="#333" stroke-width="0.7" />
<text x="285.30" y="561.20" font-size="3.8" text-anchor="middle" font-weight="bold" fill="#222">10<tspan dy="-1.5" font-size="2.6">0</tspan></text>
<line x1="305.85" y1="554.00" x2="305.85" y2="555.80" stroke="#333" stroke-width="0.7" />
<text x="305.95" y="561.20" font-size="3.8" text-anchor="middle" font-weight="bold" fill="#222">10<tspan dy="-1.5" font-size="2.6">1</tspan></text>
<line x1="326.50" y1="554.00" x2="326.50" y2="555.80" stroke="#333" stroke-width="0.7" />
<text x="326.60" y="561.20" font-size="3.8" text-anchor="middle" font-weight="bold" fill="#222">10<tspan dy="-1.5" font-size="2.6">2</tspan></text>
<line x1="347.15" y1="554.00" x2="347.15" y2="555.80" stroke="#333" stroke-width="0.7" />
<text x="347.25" y="561.20" font-size="3.8" text-anchor="middle" font-weight="bold" fill="#222">10<tspan dy="-1.5" font-size="2.6">3</tspan></text>
<line x1="367.80" y1="554.00" x2="367.80" y2="555.80" stroke="#333" stroke-width="0.7" />
<text x="367.90" y="561.20" font-size="3.8" text-anchor="middle" font-weight="bold" fill="#222">10<tspan dy="-1.5" font-size="2.6">4</tspan></text>
<text x="326.10" y="565.50" font-size="3.6" text-anchor="middle" font-weight="bold" fill="#222">FL2-H: FL2-Height</text>
<text x="274.80" y="513.15" font-size="3.5" text-anchor="middle" font-weight="bold" transform="rotate(-90 274.80 513.15)" fill="#222">% of Max</text>
<text x="364.70" y="480.30" font-size="6.4" text-anchor="end" font-weight="bold" textLength="19.31" lengthAdjust="spacingAndGlyphs" stroke="#000" stroke-width="0.4">CD14</text>
<line x1="25.00" y1="570.20" x2="360.00" y2="570.20" stroke="#000" stroke-width="1.3" />
<polygon points="366.5,570 357.8,567.2 357.8,572.8" fill="#000"/>
<text x="24.70" y="581.60" font-size="6.4" text-anchor="start" font-weight="bold" textLength="69.29" lengthAdjust="spacingAndGlyphs" stroke="#000" stroke-width="0.4">GPR34 Expression</text>
</svg>
</body></html>
